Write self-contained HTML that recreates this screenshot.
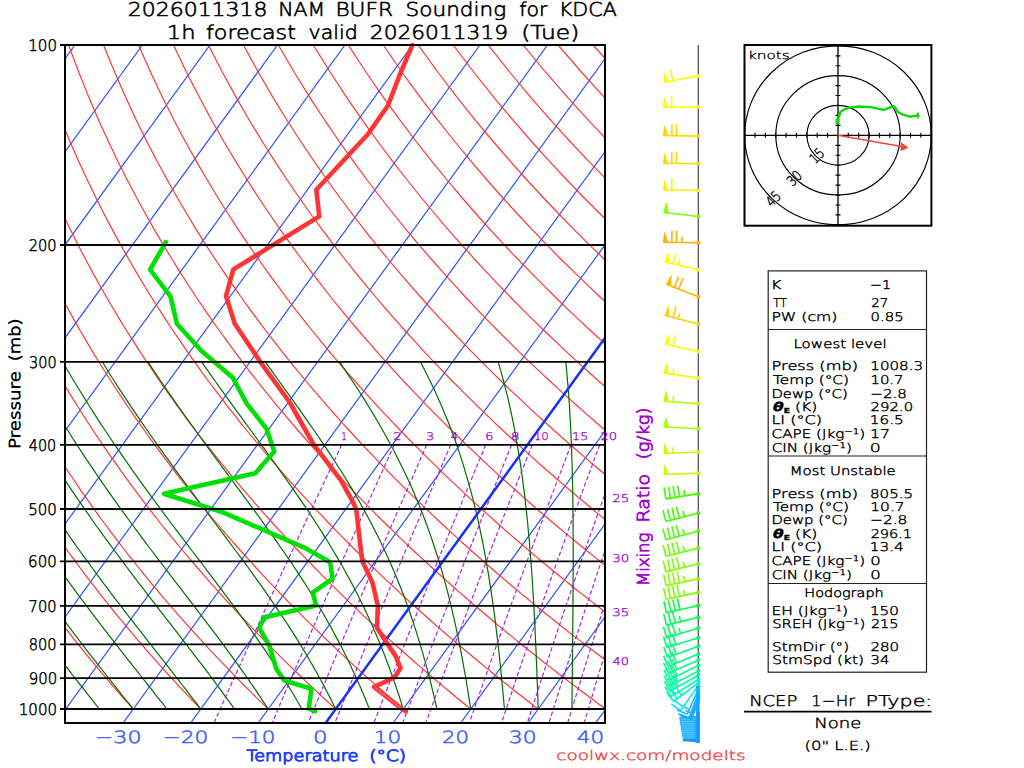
<!DOCTYPE html><html><head><meta charset="utf-8"><style>html,body{margin:0;padding:0;background:#fff;}svg{display:block;}text{font-family:"Liberation Sans",sans-serif;}</style></head><body>
<svg width="1024" height="768" viewBox="0 0 1024 768" text-rendering="geometricPrecision">
<defs><clipPath id="pc"><rect x="65" y="45" width="540" height="678"/></clipPath></defs>
<rect width="1024" height="768" fill="#fff"/>
<g clip-path="url(#pc)" fill="none">
<path d="M-551.9 723L-60 45M-484.4 723L7.5 45M-416.9 723L75 45M-349.4 723L142.5 45M-281.9 723L210 45M-214.4 723L277.5 45M-146.9 723L345 45M-79.4 723L412.5 45M-11.9 723L480 45M55.6 723L547.5 45M123.1 723L615 45M190.6 723L682.5 45M258.1 723L750 45M325.6 723L817.5 45M393.1 723L885 45M460.6 723L952.5 45M528.1 723L1020 45M595.6 723L1087.5 45" stroke="#3050ff" stroke-width="1.2"/>
<path d="M65.7 709.1L63.3 706.2L60.9 703.2L58.4 700.3L56 697.3L53.5 694.3L51.1 691.2L48.6 688.1L46.1 685L43.6 681.9L41.1 678.7L38.6 675.5L36 672.2L33.5 668.9L30.9 665.6L28.3 662.2L25.7 658.8L23.1 655.3L20.5 651.8L17.8 648.3L15.2 644.7L12.5 641.1L9.9 637.4L7.2 633.7L4.5 629.9L1.7 626.1L-1 622.2L-3.8 618.3L-6.5 614.3L-9.3 610.3L-12.1 606.2L-15 602.1L-17.8 597.8L-20.6 593.6L-23.5 589.2L-26.4 584.8L-29.3 580.4L-32.2 575.8L-35.2 571.2L-38.1 566.5L-41.1 561.7L-44.1 556.9L-47.1 552L-50.2 547L-53.2 541.8L-56.3 536.6L-59.4 531.4L-62.5 526L-65.7 520.5L-68.8 514.9L-72 509.2L-75.2 503.3L-78.4 497.4L-81.7 491.3L-84.9 485.1L-88.2 478.8L-91.6 472.3L-94.9 465.7L-98.3 458.9L-101.6 451.9L-105 444.8L-108.5 437.5L-111.9 430L-115.4 422.3L-118.9 414.4L-122.4 406.3L-126 397.9L-129.6 389.3L-133.2 380.5L-136.8 371.3L-140.4 361.8L-144.1 352.1L-147.8 341.9L-151.5 331.5L-155.2 320.6L-158.9 309.3L-162.6 297.5L-166.4 285.2L-170.1 272.4L-173.9 259L-177.6 244.9L-181.4 230.1L-185.1 214.5L-188.7 198L-192.3 180.5L-195.8 161.9L-199.3 142L-202.6 120.7L-205.7 97.6L-208.6 72.5L-211.1 45M133.2 709.1L130.6 706.2L128 703.2L125.4 700.3L122.7 697.3L120.1 694.3L117.4 691.2L114.7 688.1L112 685L109.3 681.9L106.6 678.7L103.8 675.5L101.1 672.2L98.3 668.9L95.5 665.6L92.7 662.2L89.9 658.8L87.1 655.3L84.3 651.8L81.4 648.3L78.5 644.7L75.6 641.1L72.7 637.4L69.8 633.7L66.9 629.9L63.9 626.1L60.9 622.2L57.9 618.3L54.9 614.3L51.9 610.3L48.8 606.2L45.8 602.1L42.7 597.8L39.6 593.6L36.4 589.2L33.3 584.8L30.1 580.4L26.9 575.8L23.7 571.2L20.5 566.5L17.2 561.7L13.9 556.9L10.6 552L7.3 547L4 541.8L0.6 536.6L-2.8 531.4L-6.2 526L-9.7 520.5L-13.1 514.9L-16.6 509.2L-20.1 503.3L-23.7 497.4L-27.3 491.3L-30.9 485.1L-34.5 478.8L-38.2 472.3L-41.9 465.7L-45.6 458.9L-49.3 451.9L-53.1 444.8L-56.9 437.5L-60.7 430L-64.6 422.3L-68.5 414.4L-72.4 406.3L-76.4 397.9L-80.4 389.3L-84.4 380.5L-88.5 371.3L-92.6 361.8L-96.7 352.1L-100.8 341.9L-105 331.5L-109.2 320.6L-113.5 309.3L-117.7 297.5L-122 285.2L-126.3 272.4L-130.7 259L-135 244.9L-139.4 230.1L-143.7 214.5L-148 198L-152.3 180.5L-156.6 161.9L-160.8 142L-164.9 120.7L-168.9 97.6L-172.6 72.5L-176.2 45M200.7 709.1L197.9 706.2L195.1 703.2L192.3 700.3L189.4 697.3L186.6 694.3L183.7 691.2L180.8 688.1L177.9 685L175 681.9L172.1 678.7L169.1 675.5L166.2 672.2L163.2 668.9L160.2 665.6L157.2 662.2L154.2 658.8L151.1 655.3L148 651.8L145 648.3L141.9 644.7L138.7 641.1L135.6 637.4L132.4 633.7L129.3 629.9L126.1 626.1L122.9 622.2L119.6 618.3L116.4 614.3L113.1 610.3L109.8 606.2L106.5 602.1L103.1 597.8L99.8 593.6L96.4 589.2L93 584.8L89.5 580.4L86.1 575.8L82.6 571.2L79.1 566.5L75.6 561.7L72 556.9L68.4 552L64.8 547L61.2 541.8L57.5 536.6L53.8 531.4L50.1 526L46.3 520.5L42.6 514.9L38.7 509.2L34.9 503.3L31 497.4L27.1 491.3L23.2 485.1L19.2 478.8L15.2 472.3L11.2 465.7L7.1 458.9L3 451.9L-1.1 444.8L-5.3 437.5L-9.5 430L-13.8 422.3L-18.1 414.4L-22.4 406.3L-26.8 397.9L-31.2 389.3L-35.7 380.5L-40.2 371.3L-44.7 361.8L-49.3 352.1L-53.9 341.9L-58.6 331.5L-63.3 320.6L-68.1 309.3L-72.9 297.5L-77.7 285.2L-82.6 272.4L-87.5 259L-92.4 244.9L-97.4 230.1L-102.3 214.5L-107.3 198L-112.3 180.5L-117.3 161.9L-122.3 142L-127.2 120.7L-132 97.6L-136.7 72.5L-141.2 45M268.2 709.1L265.2 706.2L262.2 703.2L259.2 700.3L256.2 697.3L253.1 694.3L250 691.2L246.9 688.1L243.8 685L240.7 681.9L237.6 678.7L234.4 675.5L231.3 672.2L228.1 668.9L224.9 665.6L221.6 662.2L218.4 658.8L215.1 655.3L211.8 651.8L208.5 648.3L205.2 644.7L201.8 641.1L198.5 637.4L195.1 633.7L191.7 629.9L188.2 626.1L184.8 622.2L181.3 618.3L177.8 614.3L174.3 610.3L170.8 606.2L167.2 602.1L163.6 597.8L160 593.6L156.3 589.2L152.6 584.8L149 580.4L145.2 575.8L141.5 571.2L137.7 566.5L133.9 561.7L130.1 556.9L126.2 552L122.3 547L118.4 541.8L114.4 536.6L110.4 531.4L106.4 526L102.3 520.5L98.2 514.9L94.1 509.2L90 503.3L85.8 497.4L81.5 491.3L77.3 485.1L73 478.8L68.6 472.3L64.2 465.7L59.8 458.9L55.3 451.9L50.8 444.8L46.3 437.5L41.7 430L37 422.3L32.3 414.4L27.6 406.3L22.8 397.9L18 389.3L13.1 380.5L8.1 371.3L3.1 361.8L-1.9 352.1L-7 341.9L-12.2 331.5L-17.4 320.6L-22.6 309.3L-28 297.5L-33.3 285.2L-38.8 272.4L-44.2 259L-49.8 244.9L-55.4 230.1L-61 214.5L-66.7 198L-72.4 180.5L-78.1 161.9L-83.8 142L-89.5 120.7L-95.2 97.6L-100.8 72.5L-106.2 45M335.7 709.1L332.5 706.2L329.3 703.2L326.1 700.3L322.9 697.3L319.6 694.3L316.3 691.2L313.1 688.1L309.8 685L306.4 681.9L303.1 678.7L299.7 675.5L296.3 672.2L292.9 668.9L289.5 665.6L286.1 662.2L282.6 658.8L279.1 655.3L275.6 651.8L272.1 648.3L268.5 644.7L264.9 641.1L261.4 637.4L257.7 633.7L254.1 629.9L250.4 626.1L246.7 622.2L243 618.3L239.3 614.3L235.5 610.3L231.7 606.2L227.9 602.1L224 597.8L220.2 593.6L216.3 589.2L212.3 584.8L208.4 580.4L204.4 575.8L200.4 571.2L196.3 566.5L192.2 561.7L188.1 556.9L184 552L179.8 547L175.6 541.8L171.3 536.6L167 531.4L162.7 526L158.3 520.5L153.9 514.9L149.5 509.2L145 503.3L140.5 497.4L135.9 491.3L131.3 485.1L126.7 478.8L122 472.3L117.3 465.7L112.5 458.9L107.6 451.9L102.8 444.8L97.8 437.5L92.9 430L87.8 422.3L82.7 414.4L77.6 406.3L72.4 397.9L67.1 389.3L61.8 380.5L56.4 371.3L51 361.8L45.5 352.1L39.9 341.9L34.3 331.5L28.6 320.6L22.8 309.3L16.9 297.5L11 285.2L5 272.4L-1 259L-7.2 244.9L-13.4 230.1L-19.6 214.5L-26 198L-32.4 180.5L-38.8 161.9L-45.3 142L-51.8 120.7L-58.4 97.6L-64.8 72.5L-71.3 45M403.2 709.1L399.8 706.2L396.4 703.2L393 700.3L389.6 697.3L386.1 694.3L382.7 691.2L379.2 688.1L375.7 685L372.1 681.9L368.6 678.7L365 675.5L361.4 672.2L357.8 668.9L354.2 665.6L350.5 662.2L346.8 658.8L343.1 655.3L339.4 651.8L335.6 648.3L331.9 644.7L328.1 641.1L324.2 637.4L320.4 633.7L316.5 629.9L312.6 626.1L308.7 622.2L304.7 618.3L300.7 614.3L296.7 610.3L292.7 606.2L288.6 602.1L284.5 597.8L280.4 593.6L276.2 589.2L272 584.8L267.8 580.4L263.5 575.8L259.2 571.2L254.9 566.5L250.6 561.7L246.2 556.9L241.7 552L237.3 547L232.8 541.8L228.2 536.6L223.6 531.4L219 526L214.3 520.5L209.6 514.9L204.9 509.2L200.1 503.3L195.2 497.4L190.3 491.3L185.4 485.1L180.4 478.8L175.4 472.3L170.3 465.7L165.2 458.9L160 451.9L154.7 444.8L149.4 437.5L144.1 430L138.6 422.3L133.1 414.4L127.6 406.3L122 397.9L116.3 389.3L110.6 380.5L104.7 371.3L98.8 361.8L92.9 352.1L86.8 341.9L80.7 331.5L74.5 320.6L68.2 309.3L61.8 297.5L55.4 285.2L48.8 272.4L42.2 259L35.5 244.9L28.6 230.1L21.7 214.5L14.7 198L7.6 180.5L0.4 161.9L-6.8 142L-14.1 120.7L-21.5 97.6L-28.9 72.5L-36.3 45M470.7 709.1L467.1 706.2L463.5 703.2L459.9 700.3L456.3 697.3L452.7 694.3L449 691.2L445.3 688.1L441.6 685L437.8 681.9L434.1 678.7L430.3 675.5L426.5 672.2L422.7 668.9L418.8 665.6L414.9 662.2L411 658.8L407.1 655.3L403.2 651.8L399.2 648.3L395.2 644.7L391.2 641.1L387.1 637.4L383 633.7L378.9 629.9L374.8 626.1L370.6 622.2L366.4 618.3L362.2 614.3L357.9 610.3L353.6 606.2L349.3 602.1L345 597.8L340.6 593.6L336.2 589.2L331.7 584.8L327.2 580.4L322.7 575.8L318.1 571.2L313.5 566.5L308.9 561.7L304.2 556.9L299.5 552L294.7 547L289.9 541.8L285.1 536.6L280.2 531.4L275.3 526L270.3 520.5L265.3 514.9L260.2 509.2L255.1 503.3L250 497.4L244.7 491.3L239.5 485.1L234.2 478.8L228.8 472.3L223.3 465.7L217.8 458.9L212.3 451.9L206.7 444.8L201 437.5L195.3 430L189.4 422.3L183.6 414.4L177.6 406.3L171.6 397.9L165.5 389.3L159.3 380.5L153 371.3L146.7 361.8L140.3 352.1L133.8 341.9L127.1 331.5L120.4 320.6L113.6 309.3L106.7 297.5L99.7 285.2L92.6 272.4L85.4 259L78.1 244.9L70.6 230.1L63.1 214.5L55.4 198L47.6 180.5L39.7 161.9L31.7 142L23.5 120.7L15.3 97.6L7 72.5L-1.3 45M538.2 709.1L534.4 706.2L530.7 703.2L526.9 700.3L523 697.3L519.2 694.3L515.3 691.2L511.4 688.1L507.5 685L503.5 681.9L499.6 678.7L495.6 675.5L491.6 672.2L487.5 668.9L483.5 665.6L479.4 662.2L475.3 658.8L471.1 655.3L466.9 651.8L462.7 648.3L458.5 644.7L454.3 641.1L450 637.4L445.7 633.7L441.3 629.9L436.9 626.1L432.5 622.2L428.1 618.3L423.6 614.3L419.1 610.3L414.6 606.2L410 602.1L405.4 597.8L400.8 593.6L396.1 589.2L391.4 584.8L386.6 580.4L381.8 575.8L377 571.2L372.1 566.5L367.2 561.7L362.3 556.9L357.3 552L352.2 547L347.1 541.8L342 536.6L336.8 531.4L331.6 526L326.3 520.5L321 514.9L315.6 509.2L310.2 503.3L304.7 497.4L299.1 491.3L293.5 485.1L287.9 478.8L282.2 472.3L276.4 465.7L270.5 458.9L264.6 451.9L258.6 444.8L252.6 437.5L246.4 430L240.2 422.3L234 414.4L227.6 406.3L221.2 397.9L214.7 389.3L208 380.5L201.3 371.3L194.6 361.8L187.7 352.1L180.7 341.9L173.6 331.5L166.4 320.6L159.1 309.3L151.6 297.5L144.1 285.2L136.4 272.4L128.6 259L120.7 244.9L112.6 230.1L104.4 214.5L96.1 198L87.6 180.5L79 161.9L70.2 142L61.2 120.7L52.1 97.6L42.9 72.5L33.6 45M605.7 709.1L601.8 706.2L597.8 703.2L593.8 700.3L589.7 697.3L585.7 694.3L581.6 691.2L577.5 688.1L573.4 685L569.2 681.9L565.1 678.7L560.9 675.5L556.7 672.2L552.4 668.9L548.1 665.6L543.8 662.2L539.5 658.8L535.1 655.3L530.7 651.8L526.3 648.3L521.8 644.7L517.4 641.1L512.9 637.4L508.3 633.7L503.7 629.9L499.1 626.1L494.5 622.2L489.8 618.3L485.1 614.3L480.3 610.3L475.6 606.2L470.7 602.1L465.9 597.8L461 593.6L456 589.2L451.1 584.8L446 580.4L441 575.8L435.9 571.2L430.7 566.5L425.6 561.7L420.3 556.9L415 552L409.7 547L404.3 541.8L398.9 536.6L393.4 531.4L387.9 526L382.3 520.5L376.7 514.9L371 509.2L365.2 503.3L359.4 497.4L353.6 491.3L347.6 485.1L341.6 478.8L335.5 472.3L329.4 465.7L323.2 458.9L316.9 451.9L310.6 444.8L304.2 437.5L297.6 430L291.1 422.3L284.4 414.4L277.6 406.3L270.8 397.9L263.8 389.3L256.8 380.5L249.6 371.3L242.4 361.8L235.1 352.1L227.6 341.9L220 331.5L212.3 320.6L204.5 309.3L196.5 297.5L188.5 285.2L180.2 272.4L171.9 259L163.3 244.9L154.6 230.1L145.8 214.5L136.8 198L127.6 180.5L118.2 161.9L108.7 142L98.9 120.7L89 97.6L78.9 72.5L68.6 45M673.2 709.1L669.1 706.2L664.9 703.2L660.7 700.3L656.5 697.3L652.2 694.3L647.9 691.2L643.6 688.1L639.3 685L635 681.9L630.6 678.7L626.2 675.5L621.7 672.2L617.3 668.9L612.8 665.6L608.2 662.2L603.7 658.8L599.1 655.3L594.5 651.8L589.9 648.3L585.2 644.7L580.5 641.1L575.7 637.4L570.9 633.7L566.1 629.9L561.3 626.1L556.4 622.2L551.5 618.3L546.5 614.3L541.5 610.3L536.5 606.2L531.4 602.1L526.3 597.8L521.2 593.6L516 589.2L510.7 584.8L505.5 580.4L500.1 575.8L494.8 571.2L489.4 566.5L483.9 561.7L478.4 556.9L472.8 552L467.2 547L461.5 541.8L455.8 536.6L450 531.4L444.2 526L438.3 520.5L432.4 514.9L426.4 509.2L420.3 503.3L414.2 497.4L408 491.3L401.7 485.1L395.3 478.8L388.9 472.3L382.5 465.7L375.9 458.9L369.3 451.9L362.5 444.8L355.7 437.5L348.8 430L341.9 422.3L334.8 414.4L327.6 406.3L320.4 397.9L313 389.3L305.5 380.5L298 371.3L290.3 361.8L282.4 352.1L274.5 341.9L266.4 331.5L258.3 320.6L249.9 309.3L241.4 297.5L232.8 285.2L224 272.4L215.1 259L205.9 244.9L196.6 230.1L187.2 214.5L177.5 198L167.6 180.5L157.5 161.9L147.1 142L136.6 120.7L125.8 97.6L114.8 72.5L103.5 45M740.7 709.1L736.4 706.2L732 703.2L727.6 700.3L723.2 697.3L718.7 694.3L714.3 691.2L709.7 688.1L705.2 685L700.7 681.9L696.1 678.7L691.5 675.5L686.8 672.2L682.1 668.9L677.4 665.6L672.7 662.2L667.9 658.8L663.1 655.3L658.3 651.8L653.4 648.3L648.5 644.7L643.6 641.1L638.6 637.4L633.6 633.7L628.5 629.9L623.5 626.1L618.3 622.2L613.2 618.3L608 614.3L602.8 610.3L597.5 606.2L592.2 602.1L586.8 597.8L581.4 593.6L575.9 589.2L570.4 584.8L564.9 580.4L559.3 575.8L553.7 571.2L548 566.5L542.2 561.7L536.4 556.9L530.6 552L524.7 547L518.7 541.8L512.7 536.6L506.6 531.4L500.5 526L494.3 520.5L488.1 514.9L481.7 509.2L475.3 503.3L468.9 497.4L462.4 491.3L455.8 485.1L449.1 478.8L442.3 472.3L435.5 465.7L428.6 458.9L421.6 451.9L414.5 444.8L407.3 437.5L400 430L392.7 422.3L385.2 414.4L377.6 406.3L370 397.9L362.2 389.3L354.3 380.5L346.3 371.3L338.1 361.8L329.8 352.1L321.4 341.9L312.9 331.5L304.2 320.6L295.3 309.3L286.3 297.5L277.2 285.2L267.8 272.4L258.3 259L248.6 244.9L238.6 230.1L228.5 214.5L218.1 198L207.6 180.5L196.7 161.9L185.6 142L174.3 120.7L162.6 97.6L150.7 72.5L138.5 45M808.2 709.1L803.7 706.2L799.1 703.2L794.5 700.3L789.9 697.3L785.2 694.3L780.6 691.2L775.9 688.1L771.1 685L766.4 681.9L761.6 678.7L756.7 675.5L751.9 672.2L747 668.9L742.1 665.6L737.1 662.2L732.1 658.8L727.1 655.3L722.1 651.8L717 648.3L711.8 644.7L706.7 641.1L701.5 637.4L696.2 633.7L691 629.9L685.6 626.1L680.3 622.2L674.9 618.3L669.4 614.3L664 610.3L658.4 606.2L652.9 602.1L647.2 597.8L641.6 593.6L635.9 589.2L630.1 584.8L624.3 580.4L618.4 575.8L612.5 571.2L606.6 566.5L600.6 561.7L594.5 556.9L588.4 552L582.2 547L575.9 541.8L569.6 536.6L563.2 531.4L556.8 526L550.3 520.5L543.7 514.9L537.1 509.2L530.4 503.3L523.6 497.4L516.8 491.3L509.8 485.1L502.8 478.8L495.7 472.3L488.5 465.7L481.3 458.9L473.9 451.9L466.4 444.8L458.9 437.5L451.2 430L443.5 422.3L435.6 414.4L427.6 406.3L419.6 397.9L411.4 389.3L403 380.5L394.6 371.3L386 361.8L377.2 352.1L368.4 341.9L359.3 331.5L350.1 320.6L340.8 309.3L331.2 297.5L321.5 285.2L311.6 272.4L301.5 259L291.2 244.9L280.6 230.1L269.9 214.5L258.8 198L247.5 180.5L236 161.9L224.1 142L212 120.7L199.5 97.6L186.6 72.5L173.5 45M875.7 709.1L871 706.2L866.2 703.2L861.4 700.3L856.6 697.3L851.8 694.3L846.9 691.2L842 688.1L837 685L832.1 681.9L827.1 678.7L822 675.5L817 672.2L811.9 668.9L806.7 665.6L801.6 662.2L796.4 658.8L791.1 655.3L785.8 651.8L780.5 648.3L775.2 644.7L769.8 641.1L764.3 637.4L758.9 633.7L753.4 629.9L747.8 626.1L742.2 622.2L736.6 618.3L730.9 614.3L725.2 610.3L719.4 606.2L713.6 602.1L707.7 597.8L701.8 593.6L695.8 589.2L689.8 584.8L683.7 580.4L677.6 575.8L671.4 571.2L665.2 566.5L658.9 561.7L652.5 556.9L646.1 552L639.7 547L633.1 541.8L626.5 536.6L619.9 531.4L613.1 526L606.3 520.5L599.4 514.9L592.5 509.2L585.5 503.3L578.3 497.4L571.2 491.3L563.9 485.1L556.5 478.8L549.1 472.3L541.6 465.7L533.9 458.9L526.2 451.9L518.4 444.8L510.5 437.5L502.4 430L494.3 422.3L486 414.4L477.7 406.3L469.2 397.9L460.5 389.3L451.8 380.5L442.9 371.3L433.8 361.8L424.6 352.1L415.3 341.9L405.8 331.5L396.1 320.6L386.2 309.3L376.1 297.5L365.9 285.2L355.4 272.4L344.7 259L333.8 244.9L322.6 230.1L311.2 214.5L299.5 198L287.5 180.5L275.2 161.9L262.6 142L249.6 120.7L236.3 97.6L222.6 72.5L208.4 45M943.2 709.1L938.3 706.2L933.3 703.2L928.3 700.3L923.3 697.3L918.3 694.3L913.2 691.2L908.1 688.1L903 685L897.8 681.9L892.6 678.7L887.3 675.5L882 672.2L876.7 668.9L871.4 665.6L866 662.2L860.6 658.8L855.1 655.3L849.6 651.8L844.1 648.3L838.5 644.7L832.9 641.1L827.2 637.4L821.5 633.7L815.8 629.9L810 626.1L804.2 622.2L798.3 618.3L792.3 614.3L786.4 610.3L780.4 606.2L774.3 602.1L768.2 597.8L762 593.6L755.8 589.2L749.5 584.8L743.1 580.4L736.8 575.8L730.3 571.2L723.8 566.5L717.2 561.7L710.6 556.9L703.9 552L697.1 547L690.3 541.8L683.4 536.6L676.5 531.4L669.4 526L662.3 520.5L655.1 514.9L647.9 509.2L640.5 503.3L633.1 497.4L625.6 491.3L618 485.1L610.3 478.8L602.5 472.3L594.6 465.7L586.6 458.9L578.5 451.9L570.3 444.8L562 437.5L553.6 430L545.1 422.3L536.4 414.4L527.7 406.3L518.8 397.9L509.7 389.3L500.5 380.5L491.2 371.3L481.7 361.8L472 352.1L462.2 341.9L452.2 331.5L442 320.6L431.6 309.3L421 297.5L410.2 285.2L399.2 272.4L387.9 259L376.4 244.9L364.6 230.1L352.6 214.5L340.2 198L327.5 180.5L314.5 161.9L301.1 142L287.3 120.7L273.1 97.6L258.5 72.5L243.4 45M1010.7 709.1L1005.6 706.2L1000.4 703.2L995.3 700.3L990 697.3L984.8 694.3L979.5 691.2L974.2 688.1L968.9 685L963.5 681.9L958.1 678.7L952.6 675.5L947.1 672.2L941.6 668.9L936 665.6L930.4 662.2L924.8 658.8L919.1 655.3L913.4 651.8L907.6 648.3L901.8 644.7L896 641.1L890.1 637.4L884.2 633.7L878.2 629.9L872.2 626.1L866.1 622.2L860 618.3L853.8 614.3L847.6 610.3L841.3 606.2L835 602.1L828.6 597.8L822.2 593.6L815.7 589.2L809.2 584.8L802.6 580.4L795.9 575.8L789.2 571.2L782.4 566.5L775.6 561.7L768.7 556.9L761.7 552L754.6 547L747.5 541.8L740.3 536.6L733.1 531.4L725.7 526L718.3 520.5L710.8 514.9L703.2 509.2L695.6 503.3L687.8 497.4L680 491.3L672 485.1L664 478.8L655.9 472.3L647.6 465.7L639.3 458.9L630.9 451.9L622.3 444.8L613.6 437.5L604.8 430L595.9 422.3L586.9 414.4L577.7 406.3L568.3 397.9L558.9 389.3L549.3 380.5L539.5 371.3L529.5 361.8L519.4 352.1L509.1 341.9L498.6 331.5L487.9 320.6L477 309.3L465.9 297.5L454.6 285.2L443 272.4L431.2 259L419 244.9L406.6 230.1L393.9 214.5L380.9 198L367.5 180.5L353.8 161.9L339.6 142L325 120.7L310 97.6L294.4 72.5L278.4 45M1078.2 709.1L1072.9 706.2L1067.6 703.2L1062.2 700.3L1056.8 697.3L1051.3 694.3L1045.8 691.2L1040.3 688.1L1034.8 685L1029.2 681.9L1023.6 678.7L1017.9 675.5L1012.2 672.2L1006.5 668.9L1000.7 665.6L994.9 662.2L989 658.8L983.1 655.3L977.2 651.8L971.2 648.3L965.2 644.7L959.1 641.1L953 637.4L946.8 633.7L940.6 629.9L934.3 626.1L928 622.2L921.7 618.3L915.3 614.3L908.8 610.3L902.3 606.2L895.7 602.1L889.1 597.8L882.4 593.6L875.7 589.2L868.8 584.8L862 580.4L855.1 575.8L848.1 571.2L841 566.5L833.9 561.7L826.7 556.9L819.4 552L812.1 547L804.7 541.8L797.2 536.6L789.7 531.4L782 526L774.3 520.5L766.5 514.9L758.6 509.2L750.6 503.3L742.5 497.4L734.4 491.3L726.1 485.1L717.7 478.8L709.3 472.3L700.7 465.7L692 458.9L683.2 451.9L674.3 444.8L665.2 437.5L656 430L646.7 422.3L637.3 414.4L627.7 406.3L617.9 397.9L608.1 389.3L598 380.5L587.8 371.3L577.4 361.8L566.8 352.1L556 341.9L545.1 331.5L533.9 320.6L522.5 309.3L510.8 297.5L498.9 285.2L486.8 272.4L474.4 259L461.7 244.9L448.6 230.1L435.3 214.5L421.6 198L407.5 180.5L393 161.9L378.1 142L362.7 120.7L346.8 97.6L330.4 72.5L313.3 45M1145.7 709.1L1140.2 706.2L1134.7 703.2L1129.1 700.3L1123.5 697.3L1117.8 694.3L1112.2 691.2L1106.4 688.1L1100.7 685L1094.9 681.9L1089.1 678.7L1083.2 675.5L1077.3 672.2L1071.3 668.9L1065.3 665.6L1059.3 662.2L1053.2 658.8L1047.1 655.3L1041 651.8L1034.7 648.3L1028.5 644.7L1022.2 641.1L1015.8 637.4L1009.5 633.7L1003 629.9L996.5 626.1L990 622.2L983.4 618.3L976.7 614.3L970 610.3L963.2 606.2L956.4 602.1L949.5 597.8L942.6 593.6L935.6 589.2L928.5 584.8L921.4 580.4L914.2 575.8L907 571.2L899.6 566.5L892.2 561.7L884.8 556.9L877.2 552L869.6 547L861.9 541.8L854.1 536.6L846.3 531.4L838.3 526L830.3 520.5L822.2 514.9L814 509.2L805.7 503.3L797.3 497.4L788.8 491.3L780.2 485.1L771.5 478.8L762.6 472.3L753.7 465.7L744.7 458.9L735.5 451.9L726.2 444.8L716.8 437.5L707.2 430L697.5 422.3L687.7 414.4L677.7 406.3L667.5 397.9L657.2 389.3L646.7 380.5L636.1 371.3L625.2 361.8L614.2 352.1L602.9 341.9L591.5 331.5L579.8 320.6L567.9 309.3L555.7 297.5L543.3 285.2L530.6 272.4L517.6 259L504.3 244.9L490.6 230.1L476.6 214.5L462.3 198L447.5 180.5L432.3 161.9L416.6 142L400.4 120.7L383.6 97.6L366.3 72.5L348.3 45M1213.2 709.1L1207.5 706.2L1201.8 703.2L1196 700.3L1190.2 697.3L1184.4 694.3L1178.5 691.2L1172.6 688.1L1166.6 685L1160.6 681.9L1154.6 678.7L1148.5 675.5L1142.4 672.2L1136.2 668.9L1130 665.6L1123.7 662.2L1117.5 658.8L1111.1 655.3L1104.7 651.8L1098.3 648.3L1091.8 644.7L1085.3 641.1L1078.7 637.4L1072.1 633.7L1065.4 629.9L1058.7 626.1L1051.9 622.2L1045.1 618.3L1038.2 614.3L1031.2 610.3L1024.2 606.2L1017.1 602.1L1010 597.8L1002.8 593.6L995.5 589.2L988.2 584.8L980.8 580.4L973.4 575.8L965.8 571.2L958.2 566.5L950.6 561.7L942.8 556.9L935 552L927.1 547L919.1 541.8L911 536.6L902.9 531.4L894.6 526L886.3 520.5L877.9 514.9L869.3 509.2L860.7 503.3L852 497.4L843.2 491.3L834.2 485.1L825.2 478.8L816 472.3L806.8 465.7L797.4 458.9L787.8 451.9L778.2 444.8L768.4 437.5L758.4 430L748.3 422.3L738.1 414.4L727.7 406.3L717.1 397.9L706.4 389.3L695.5 380.5L684.4 371.3L673.1 361.8L661.6 352.1L649.9 341.9L637.9 331.5L625.7 320.6L613.3 309.3L600.6 297.5L587.7 285.2L574.4 272.4L560.8 259L546.9 244.9L532.6 230.1L518 214.5L502.9 198L487.5 180.5L471.5 161.9L455.1 142L438.1 120.7L420.5 97.6L402.2 72.5L383.2 45M1280.7 709.1L1274.8 706.2L1268.9 703.2L1262.9 700.3L1256.9 697.3L1250.9 694.3L1244.8 691.2L1238.7 688.1L1232.5 685L1226.3 681.9L1220.1 678.7L1213.8 675.5L1207.4 672.2L1201.1 668.9L1194.7 665.6L1188.2 662.2L1181.7 658.8L1175.1 655.3L1168.5 651.8L1161.9 648.3L1155.2 644.7L1148.4 641.1L1141.6 637.4L1134.7 633.7L1127.8 629.9L1120.9 626.1L1113.8 622.2L1106.8 618.3L1099.6 614.3L1092.4 610.3L1085.2 606.2L1077.8 602.1L1070.5 597.8L1063 593.6L1055.5 589.2L1047.9 584.8L1040.2 580.4L1032.5 575.8L1024.7 571.2L1016.8 566.5L1008.9 561.7L1000.9 556.9L992.8 552L984.6 547L976.3 541.8L967.9 536.6L959.5 531.4L950.9 526L942.3 520.5L933.6 514.9L924.7 509.2L915.8 503.3L906.7 497.4L897.6 491.3L888.3 485.1L878.9 478.8L869.4 472.3L859.8 465.7L850 458.9L840.1 451.9L830.1 444.8L819.9 437.5L809.6 430L799.1 422.3L788.5 414.4L777.7 406.3L766.7 397.9L755.6 389.3L744.2 380.5L732.7 371.3L720.9 361.8L709 352.1L696.8 341.9L684.4 331.5L671.7 320.6L658.7 309.3L645.5 297.5L632 285.2L618.2 272.4L604 259L589.5 244.9L574.6 230.1L559.4 214.5L543.6 198L527.5 180.5L510.8 161.9L493.6 142L475.7 120.7L457.3 97.6L438.1 72.5L418.2 45M1348.2 709.1L1342.1 706.2L1336 703.2L1329.8 700.3L1323.6 697.3L1317.4 694.3L1311.1 691.2L1304.8 688.1L1298.4 685L1292 681.9L1285.6 678.7L1279.1 675.5L1272.5 672.2L1265.9 668.9L1259.3 665.6L1252.6 662.2L1245.9 658.8L1239.1 655.3L1232.3 651.8L1225.4 648.3L1218.5 644.7L1211.5 641.1L1204.5 637.4L1197.4 633.7L1190.2 629.9L1183 626.1L1175.8 622.2L1168.5 618.3L1161.1 614.3L1153.6 610.3L1146.1 606.2L1138.5 602.1L1130.9 597.8L1123.2 593.6L1115.4 589.2L1107.6 584.8L1099.7 580.4L1091.7 575.8L1083.6 571.2L1075.5 566.5L1067.2 561.7L1058.9 556.9L1050.5 552L1042.1 547L1033.5 541.8L1024.8 536.6L1016.1 531.4L1007.2 526L998.3 520.5L989.2 514.9L980.1 509.2L970.8 503.3L961.5 497.4L952 491.3L942.4 485.1L932.7 478.8L922.8 472.3L912.8 465.7L902.7 458.9L892.5 451.9L882.1 444.8L871.5 437.5L860.8 430L850 422.3L838.9 414.4L827.7 406.3L816.3 397.9L804.8 389.3L793 380.5L781 371.3L768.8 361.8L756.4 352.1L743.7 341.9L730.8 331.5L717.6 320.6L704.2 309.3L690.4 297.5L676.4 285.2L662 272.4L647.2 259L632.1 244.9L616.6 230.1L600.7 214.5L584.3 198L567.4 180.5L550 161.9L532 142L513.4 120.7L494.1 97.6L474.1 72.5L453.2 45M1415.7 709.1L1409.4 706.2L1403.1 703.2L1396.7 700.3L1390.3 697.3L1383.9 694.3L1377.4 691.2L1370.9 688.1L1364.3 685L1357.7 681.9L1351.1 678.7L1344.4 675.5L1337.6 672.2L1330.8 668.9L1324 665.6L1317.1 662.2L1310.1 658.8L1303.1 655.3L1296.1 651.8L1289 648.3L1281.8 644.7L1274.6 641.1L1267.3 637.4L1260 633.7L1252.6 629.9L1245.2 626.1L1237.7 622.2L1230.1 618.3L1222.5 614.3L1214.8 610.3L1207.1 606.2L1199.3 602.1L1191.4 597.8L1183.4 593.6L1175.4 589.2L1167.3 584.8L1159.1 580.4L1150.8 575.8L1142.5 571.2L1134.1 566.5L1125.6 561.7L1117 556.9L1108.3 552L1099.5 547L1090.7 541.8L1081.7 536.6L1072.7 531.4L1063.5 526L1054.3 520.5L1044.9 514.9L1035.5 509.2L1025.9 503.3L1016.2 497.4L1006.4 491.3L996.5 485.1L986.4 478.8L976.2 472.3L965.9 465.7L955.4 458.9L944.8 451.9L934 444.8L923.1 437.5L912 430L900.8 422.3L889.3 414.4L877.7 406.3L865.9 397.9L853.9 389.3L841.7 380.5L829.3 371.3L816.7 361.8L803.8 352.1L790.6 341.9L777.2 331.5L763.6 320.6L749.6 309.3L735.3 297.5L720.7 285.2L705.8 272.4L690.5 259L674.8 244.9L658.6 230.1L642.1 214.5L625 198L607.4 180.5L589.3 161.9L570.5 142L551.1 120.7L531 97.6L510 72.5L488.1 45M1483.2 709.1L1476.7 706.2L1470.2 703.2L1463.7 700.3L1457.1 697.3L1450.4 694.3L1443.7 691.2L1437 688.1L1430.2 685L1423.4 681.9L1416.6 678.7L1409.6 675.5L1402.7 672.2L1395.7 668.9L1388.6 665.6L1381.5 662.2L1374.3 658.8L1367.1 655.3L1359.9 651.8L1352.5 648.3L1345.2 644.7L1337.7 641.1L1330.2 637.4L1322.7 633.7L1315.1 629.9L1307.4 626.1L1299.6 622.2L1291.8 618.3L1284 614.3L1276 610.3L1268 606.2L1260 602.1L1251.8 597.8L1243.6 593.6L1235.3 589.2L1226.9 584.8L1218.5 580.4L1210 575.8L1201.4 571.2L1192.7 566.5L1183.9 561.7L1175 556.9L1166.1 552L1157 547L1147.9 541.8L1138.6 536.6L1129.3 531.4L1119.8 526L1110.3 520.5L1100.6 514.9L1090.8 509.2L1080.9 503.3L1070.9 497.4L1060.8 491.3L1050.5 485.1L1040.1 478.8L1029.6 472.3L1018.9 465.7L1008.1 458.9L997.1 451.9L986 444.8L974.7 437.5L963.2 430L951.6 422.3L939.7 414.4L927.7 406.3L915.5 397.9L903.1 389.3L890.5 380.5L877.6 371.3L864.5 361.8L851.2 352.1L837.5 341.9L823.7 331.5L809.5 320.6L795 309.3L780.2 297.5L765.1 285.2L749.6 272.4L733.7 259L717.4 244.9L700.6 230.1L683.4 214.5L665.7 198L647.4 180.5L628.5 161.9L609 142L588.8 120.7L567.8 97.6L545.9 72.5L523.1 45M1550.7 709.1L1544 706.2L1537.3 703.2L1530.6 700.3L1523.8 697.3L1516.9 694.3L1510.1 691.2L1503.1 688.1L1496.2 685L1489.1 681.9L1482.1 678.7L1474.9 675.5L1467.8 672.2L1460.5 668.9L1453.3 665.6L1445.9 662.2L1438.6 658.8L1431.1 655.3L1423.6 651.8L1416.1 648.3L1408.5 644.7L1400.8 641.1L1393.1 637.4L1385.3 633.7L1377.5 629.9L1369.6 626.1L1361.6 622.2L1353.5 618.3L1345.4 614.3L1337.2 610.3L1329 606.2L1320.7 602.1L1312.3 597.8L1303.8 593.6L1295.3 589.2L1286.6 584.8L1277.9 580.4L1269.1 575.8L1260.3 571.2L1251.3 566.5L1242.2 561.7L1233.1 556.9L1223.8 552L1214.5 547L1205.1 541.8L1195.5 536.6L1185.9 531.4L1176.1 526L1166.3 520.5L1156.3 514.9L1146.2 509.2L1136 503.3L1125.7 497.4L1115.2 491.3L1104.6 485.1L1093.9 478.8L1083 472.3L1071.9 465.7L1060.8 458.9L1049.4 451.9L1037.9 444.8L1026.3 437.5L1014.4 430L1002.4 422.3L990.2 414.4L977.7 406.3L965.1 397.9L952.3 389.3L939.2 380.5L925.9 371.3L912.4 361.8L898.5 352.1L884.5 341.9L870.1 331.5L855.4 320.6L840.4 309.3L825.1 297.5L809.4 285.2L793.4 272.4L776.9 259L760 244.9L742.6 230.1L724.8 214.5L706.4 198L687.4 180.5L667.8 161.9L647.5 142L626.5 120.7L604.6 97.6L581.8 72.5L558.1 45M1618.2 709.1L1611.3 706.2L1604.4 703.2L1597.5 700.3L1590.5 697.3L1583.5 694.3L1576.4 691.2L1569.2 688.1L1562.1 685L1554.8 681.9L1547.6 678.7L1540.2 675.5L1532.8 672.2L1525.4 668.9L1517.9 665.6L1510.4 662.2L1502.8 658.8L1495.1 655.3L1487.4 651.8L1479.6 648.3L1471.8 644.7L1463.9 641.1L1456 637.4L1448 633.7L1439.9 629.9L1431.7 626.1L1423.5 622.2L1415.2 618.3L1406.9 614.3L1398.5 610.3L1390 606.2L1381.4 602.1L1372.7 597.8L1364 593.6L1355.2 589.2L1346.3 584.8L1337.3 580.4L1328.3 575.8L1319.1 571.2L1309.9 566.5L1300.6 561.7L1291.1 556.9L1281.6 552L1272 547L1262.3 541.8L1252.4 536.6L1242.5 531.4L1232.4 526L1222.3 520.5L1212 514.9L1201.6 509.2L1191.1 503.3L1180.4 497.4L1169.6 491.3L1158.7 485.1L1147.6 478.8L1136.4 472.3L1125 465.7L1113.4 458.9L1101.7 451.9L1089.9 444.8L1077.8 437.5L1065.6 430L1053.2 422.3L1040.6 414.4L1027.8 406.3L1014.7 397.9L1001.5 389.3L988 380.5L974.2 371.3L960.2 361.8L945.9 352.1L931.4 341.9L916.5 331.5L901.4 320.6L885.9 309.3L870 297.5L853.8 285.2L837.2 272.4L820.1 259L802.6 244.9L784.6 230.1L766.1 214.5L747.1 198L727.4 180.5L707.1 161.9L686 142L664.2 120.7L641.5 97.6L617.8 72.5L593 45M1685.7 709.1L1678.7 706.2L1671.6 703.2L1664.4 700.3L1657.2 697.3L1650 694.3L1642.7 691.2L1635.4 688.1L1628 685L1620.5 681.9L1613 678.7L1605.5 675.5L1597.9 672.2L1590.3 668.9L1582.6 665.6L1574.8 662.2L1567 658.8L1559.1 655.3L1551.2 651.8L1543.2 648.3L1535.1 644.7L1527 641.1L1518.8 637.4L1510.6 633.7L1502.3 629.9L1493.9 626.1L1485.5 622.2L1476.9 618.3L1468.3 614.3L1459.7 610.3L1450.9 606.2L1442.1 602.1L1433.2 597.8L1424.2 593.6L1415.1 589.2L1406 584.8L1396.8 580.4L1387.4 575.8L1378 571.2L1368.5 566.5L1358.9 561.7L1349.2 556.9L1339.4 552L1329.5 547L1319.5 541.8L1309.3 536.6L1299.1 531.4L1288.7 526L1278.3 520.5L1267.7 514.9L1257 509.2L1246.1 503.3L1235.1 497.4L1224 491.3L1212.7 485.1L1201.3 478.8L1189.7 472.3L1178 465.7L1166.1 458.9L1154.1 451.9L1141.8 444.8L1129.4 437.5L1116.8 430L1104 422.3L1091 414.4L1077.8 406.3L1064.3 397.9L1050.6 389.3L1036.7 380.5L1022.5 371.3L1008.1 361.8L993.3 352.1L978.3 341.9L963 331.5L947.3 320.6L931.3 309.3L914.9 297.5L898.1 285.2L881 272.4L863.3 259L845.2 244.9L826.6 230.1L807.5 214.5L787.8 198L767.4 180.5L746.3 161.9L724.5 142L701.9 120.7L678.3 97.6L653.7 72.5L628 45" stroke="#ff3030" stroke-width="1.15"/>
<path d="M32 709.1L29.7 706.2L27.5 703.2L25.2 700.3L22.9 697.3L20.6 694.3L18.3 691.2L16 688.1L13.7 685L11.3 681.9L9 678.7L6.6 675.5L4.2 672.2L1.8 668.9L-0.6 665.6L-3 662.2L-5.5 658.8L-8 655.3L-10.4 651.8L-12.9 648.3L-15.4 644.7L-18 641.1L-20.5 637.4L-23.1 633.7L-25.6 629.9L-28.2 626.1L-30.8 622.2L-33.4 618.3L-36.1 614.3L-38.7 610.3L-41.4 606.2L-44.1 602.1L-46.8 597.8L-49.5 593.6L-52.2 589.2L-55 584.8L-57.7 580.4L-60.5 575.8L-63.3 571.2L-66.1 566.5L-69 561.7L-71.8 556.9L-74.7 552L-77.6 547L-80.5 541.8L-83.4 536.6L-86.4 531.4L-89.3 526L-92.3 520.5L-95.3 514.9L-98.3 509.2L-101.4 503.3L-104.4 497.4L-107.5 491.3L-110.6 485.1L-113.8 478.8L-116.9 472.3L-120.1 465.7L-123.2 458.9L-126.4 451.9L-129.7 444.8L-132.9 437.5L-136.2 430L-139.5 422.3L-142.8 414.4L-146.1 406.3L-149.5 397.9L-152.8 389.3L-156.2 380.5L-159.6 371.3L-163 361.8M65.7 709.1L63.4 706.2L61.1 703.2L58.8 700.3L56.5 697.3L54.1 694.3L51.8 691.2L49.4 688.1L47 685L44.5 681.9L42.1 678.7L39.7 675.5L37.2 672.2L34.7 668.9L32.2 665.6L29.7 662.2L27.2 658.8L24.6 655.3L22 651.8L19.4 648.3L16.8 644.7L14.2 641.1L11.6 637.4L8.9 633.7L6.2 629.9L3.6 626.1L0.8 622.2L-1.9 618.3L-4.6 614.3L-7.4 610.3L-10.2 606.2L-13 602.1L-15.8 597.8L-18.6 593.6L-21.5 589.2L-24.4 584.8L-27.3 580.4L-30.2 575.8L-33.1 571.2L-36.1 566.5L-39 561.7L-42 556.9L-45 552L-48.1 547L-51.1 541.8L-54.2 536.6L-57.3 531.4L-60.4 526L-63.5 520.5L-66.7 514.9L-69.9 509.2L-73.1 503.3L-76.3 497.4L-79.6 491.3L-82.8 485.1L-86.1 478.8L-89.5 472.3L-92.8 465.7L-96.2 458.9L-99.6 451.9L-103 444.8L-106.4 437.5L-109.9 430L-113.4 422.3L-116.9 414.4L-120.4 406.3L-124 397.9L-127.5 389.3L-131.1 380.5L-134.8 371.3L-138.4 361.8M99.5 709.1L97.1 706.2L94.8 703.2L92.5 700.3L90.1 697.3L87.7 694.3L85.3 691.2L82.9 688.1L80.4 685L77.9 681.9L75.4 678.7L72.9 675.5L70.4 672.2L67.9 668.9L65.3 665.6L62.7 662.2L60.1 658.8L57.5 655.3L54.8 651.8L52.1 648.3L49.5 644.7L46.7 641.1L44 637.4L41.3 633.7L38.5 629.9L35.7 626.1L32.9 622.2L30.1 618.3L27.2 614.3L24.4 610.3L21.5 606.2L18.5 602.1L15.6 597.8L12.7 593.6L9.7 589.2L6.7 584.8L3.7 580.4L0.6 575.8L-2.4 571.2L-5.5 566.5L-8.6 561.7L-11.8 556.9L-14.9 552L-18.1 547L-21.3 541.8L-24.5 536.6L-27.8 531.4L-31 526L-34.3 520.5L-37.7 514.9L-41 509.2L-44.4 503.3L-47.8 497.4L-51.2 491.3L-54.6 485.1L-58.1 478.8L-61.6 472.3L-65.1 465.7L-68.7 458.9L-72.2 451.9L-75.8 444.8L-79.5 437.5L-83.1 430L-86.8 422.3L-90.5 414.4L-94.3 406.3L-98.1 397.9L-101.9 389.3L-105.7 380.5L-109.5 371.3L-113.4 361.8M133.2 709.1L130.9 706.2L128.6 703.2L126.2 700.3L123.8 697.3L121.4 694.3L119 691.2L116.5 688.1L114.1 685L111.6 681.9L109 678.7L106.5 675.5L103.9 672.2L101.3 668.9L98.7 665.6L96.1 662.2L93.4 658.8L90.7 655.3L88 651.8L85.3 648.3L82.5 644.7L79.8 641.1L77 637.4L74.1 633.7L71.3 629.9L68.4 626.1L65.5 622.2L62.6 618.3L59.6 614.3L56.7 610.3L53.7 606.2L50.7 602.1L47.6 597.8L44.6 593.6L41.5 589.2L38.4 584.8L35.2 580.4L32 575.8L28.9 571.2L25.6 566.5L22.4 561.7L19.1 556.9L15.8 552L12.5 547L9.2 541.8L5.8 536.6L2.4 531.4L-1 526L-4.5 520.5L-7.9 514.9L-11.4 509.2L-15 503.3L-18.5 497.4L-22.1 491.3L-25.7 485.1L-29.4 478.8L-33.1 472.3L-36.8 465.7L-40.5 458.9L-44.3 451.9L-48.1 444.8L-51.9 437.5L-55.8 430L-59.7 422.3L-63.6 414.4L-67.6 406.3L-71.6 397.9L-75.6 389.3L-79.6 380.5L-83.7 371.3L-87.9 361.8M167 709.1L164.7 706.2L162.4 703.2L160.1 700.3L157.7 697.3L155.3 694.3L152.9 691.2L150.5 688.1L148 685L145.5 681.9L143 678.7L140.5 675.5L137.9 672.2L135.3 668.9L132.7 665.6L130 662.2L127.3 658.8L124.6 655.3L121.9 651.8L119.1 648.3L116.3 644.7L113.5 641.1L110.6 637.4L107.7 633.7L104.8 629.9L101.9 626.1L98.9 622.2L95.9 618.3L92.9 614.3L89.8 610.3L86.8 606.2L83.6 602.1L80.5 597.8L77.3 593.6L74.1 589.2L70.9 584.8L67.7 580.4L64.4 575.8L61.1 571.2L57.7 566.5L54.4 561.7L51 556.9L47.6 552L44.1 547L40.6 541.8L37.1 536.6L33.6 531.4L30 526L26.4 520.5L22.7 514.9L19.1 509.2L15.4 503.3L11.6 497.4L7.9 491.3L4.1 485.1L0.2 478.8L-3.6 472.3L-7.5 465.7L-11.4 458.9L-15.4 451.9L-19.4 444.8L-23.4 437.5L-27.5 430L-31.6 422.3L-35.8 414.4L-39.9 406.3L-44.2 397.9L-48.4 389.3L-52.7 380.5L-57.1 371.3L-61.4 361.8M200.7 709.1L198.5 706.2L196.3 703.2L194 700.3L191.8 697.3L189.5 694.3L187.1 691.2L184.7 688.1L182.3 685L179.9 681.9L177.4 678.7L174.9 675.5L172.4 672.2L169.8 668.9L167.2 665.6L164.6 662.2L161.9 658.8L159.2 655.3L156.4 651.8L153.7 648.3L150.9 644.7L148 641.1L145.2 637.4L142.3 633.7L139.3 629.9L136.3 626.1L133.3 622.2L130.3 618.3L127.2 614.3L124.1 610.3L121 606.2L117.8 602.1L114.6 597.8L111.3 593.6L108.1 589.2L104.7 584.8L101.4 580.4L98 575.8L94.6 571.2L91.2 566.5L87.7 561.7L84.2 556.9L80.6 552L77 547L73.4 541.8L69.7 536.6L66.1 531.4L62.3 526L58.6 520.5L54.8 514.9L50.9 509.2L47.1 503.3L43.2 497.4L39.2 491.3L35.3 485.1L31.2 478.8L27.2 472.3L23.1 465.7L19 458.9L14.8 451.9L10.6 444.8L6.4 437.5L2.1 430L-2.3 422.3L-6.6 414.4L-11 406.3L-15.5 397.9L-20 389.3L-24.5 380.5L-29.1 371.3L-33.8 361.8M234.5 709.1L232.4 706.2L230.3 703.2L228.2 700.3L226 697.3L223.8 694.3L221.6 691.2L219.3 688.1L217 685L214.7 681.9L212.3 678.7L209.9 675.5L207.5 672.2L205 668.9L202.5 665.6L199.9 662.2L197.3 658.8L194.6 655.3L192 651.8L189.2 648.3L186.5 644.7L183.7 641.1L180.8 637.4L178 633.7L175 629.9L172.1 626.1L169.1 622.2L166 618.3L163 614.3L159.8 610.3L156.7 606.2L153.5 602.1L150.2 597.8L146.9 593.6L143.6 589.2L140.2 584.8L136.8 580.4L133.3 575.8L129.8 571.2L126.3 566.5L122.7 561.7L119.1 556.9L115.5 552L111.8 547L108 541.8L104.2 536.6L100.4 531.4L96.5 526L92.6 520.5L88.7 514.9L84.7 509.2L80.7 503.3L76.6 497.4L72.5 491.3L68.3 485.1L64.1 478.8L59.9 472.3L55.6 465.7L51.3 458.9L46.9 451.9L42.5 444.8L38 437.5L33.5 430L28.9 422.3L24.3 414.4L19.7 406.3L15 397.9L10.2 389.3L5.4 380.5L0.5 371.3L-4.4 361.8M268.2 709.1L266.3 706.2L264.4 703.2L262.5 700.3L260.5 697.3L258.5 694.3L256.4 691.2L254.3 688.1L252.2 685L250 681.9L247.8 678.7L245.5 675.5L243.2 672.2L240.9 668.9L238.5 665.6L236.1 662.2L233.6 658.8L231.1 655.3L228.5 651.8L225.9 648.3L223.3 644.7L220.6 641.1L217.9 637.4L215.1 633.7L212.2 629.9L209.3 626.1L206.4 622.2L203.4 618.3L200.4 614.3L197.3 610.3L194.2 606.2L191 602.1L187.8 597.8L184.5 593.6L181.2 589.2L177.8 584.8L174.3 580.4L170.9 575.8L167.3 571.2L163.8 566.5L160.1 561.7L156.4 556.9L152.7 552L148.9 547L145.1 541.8L141.2 536.6L137.3 531.4L133.3 526L129.2 520.5L125.2 514.9L121 509.2L116.8 503.3L112.6 497.4L108.3 491.3L104 485.1L99.6 478.8L95.2 472.3L90.7 465.7L86.1 458.9L81.5 451.9L76.9 444.8L72.2 437.5L67.5 430L62.6 422.3L57.8 414.4L52.9 406.3L47.9 397.9L42.9 389.3L37.8 380.5L32.7 371.3L27.5 361.8M302 709.1L300.3 706.2L298.6 703.2L296.9 700.3L295.1 697.3L293.3 694.3L291.5 691.2L289.6 688.1L287.7 685L285.7 681.9L283.7 678.7L281.7 675.5L279.6 672.2L277.5 668.9L275.3 665.6L273.1 662.2L270.8 658.8L268.5 655.3L266.2 651.8L263.8 648.3L261.3 644.7L258.8 641.1L256.2 637.4L253.6 633.7L251 629.9L248.2 626.1L245.5 622.2L242.6 618.3L239.7 614.3L236.8 610.3L233.8 606.2L230.7 602.1L227.6 597.8L224.4 593.6L221.2 589.2L217.8 584.8L214.5 580.4L211 575.8L207.5 571.2L204 566.5L200.4 561.7L196.7 556.9L192.9 552L189.1 547L185.3 541.8L181.3 536.6L177.3 531.4L173.3 526L169.1 520.5L165 514.9L160.7 509.2L156.4 503.3L152 497.4L147.6 491.3L143.1 485.1L138.5 478.8L133.9 472.3L129.2 465.7L124.5 458.9L119.7 451.9L114.8 444.8L109.9 437.5L104.9 430L99.8 422.3L94.7 414.4L89.5 406.3L84.3 397.9L79 389.3L73.6 380.5L68.1 371.3L62.6 361.8M335.7 709.1L334.3 706.2L332.8 703.2L331.4 700.3L329.9 697.3L328.3 694.3L326.7 691.2L325.1 688.1L323.5 685L321.8 681.9L320.1 678.7L318.3 675.5L316.5 672.2L314.6 668.9L312.8 665.6L310.8 662.2L308.8 658.8L306.8 655.3L304.7 651.8L302.6 648.3L300.4 644.7L298.2 641.1L295.9 637.4L293.5 633.7L291.1 629.9L288.7 626.1L286.2 622.2L283.6 618.3L280.9 614.3L278.2 610.3L275.5 606.2L272.6 602.1L269.7 597.8L266.7 593.6L263.7 589.2L260.6 584.8L257.4 580.4L254.1 575.8L250.8 571.2L247.4 566.5L243.9 561.7L240.3 556.9L236.7 552L232.9 547L229.1 541.8L225.2 536.6L221.3 531.4L217.2 526L213.1 520.5L208.9 514.9L204.6 509.2L200.2 503.3L195.8 497.4L191.3 491.3L186.7 485.1L182 478.8L177.2 472.3L172.4 465.7L167.5 458.9L162.5 451.9L157.4 444.8L152.2 437.5L147 430L141.7 422.3L136.3 414.4L130.8 406.3L125.3 397.9L119.6 389.3L113.9 380.5L108.1 371.3L102.3 361.8M369.5 709.1L368.3 706.2L367.1 703.2L365.9 700.3L364.7 697.3L363.4 694.3L362.1 691.2L360.8 688.1L359.4 685L358.1 681.9L356.6 678.7L355.2 675.5L353.7 672.2L352.1 668.9L350.6 665.6L349 662.2L347.3 658.8L345.6 655.3L343.9 651.8L342.1 648.3L340.3 644.7L338.4 641.1L336.4 637.4L334.4 633.7L332.4 629.9L330.3 626.1L328.1 622.2L325.9 618.3L323.6 614.3L321.3 610.3L318.9 606.2L316.4 602.1L313.8 597.8L311.2 593.6L308.5 589.2L305.7 584.8L302.9 580.4L299.9 575.8L296.9 571.2L293.8 566.5L290.6 561.7L287.3 556.9L283.9 552L280.4 547L276.9 541.8L273.2 536.6L269.4 531.4L265.6 526L261.6 520.5L257.5 514.9L253.4 509.2L249.1 503.3L244.7 497.4L240.2 491.3L235.6 485.1L230.9 478.8L226.1 472.3L221.2 465.7L216.2 458.9L211.1 451.9L205.9 444.8L200.5 437.5L195.1 430L189.6 422.3L183.9 414.4L178.2 406.3L172.4 397.9L166.4 389.3L160.4 380.5L154.2 371.3L148 361.8M403.2 709.1L402.3 706.2L401.4 703.2L400.5 700.3L399.5 697.3L398.5 694.3L397.5 691.2L396.5 688.1L395.4 685L394.3 681.9L393.2 678.7L392.1 675.5L390.9 672.2L389.7 668.9L388.5 665.6L387.2 662.2L385.9 658.8L384.6 655.3L383.2 651.8L381.8 648.3L380.4 644.7L378.9 641.1L377.3 637.4L375.8 633.7L374.1 629.9L372.5 626.1L370.7 622.2L368.9 618.3L367.1 614.3L365.2 610.3L363.3 606.2L361.2 602.1L359.1 597.8L357 593.6L354.8 589.2L352.5 584.8L350.1 580.4L347.6 575.8L345.1 571.2L342.5 566.5L339.8 561.7L336.9 556.9L334 552L331 547L327.9 541.8L324.7 536.6L321.4 531.4L317.9 526L314.4 520.5L310.7 514.9L306.9 509.2L302.9 503.3L298.9 497.4L294.7 491.3L290.3 485.1L285.9 478.8L281.2 472.3L276.5 465.7L271.6 458.9L266.5 451.9L261.4 444.8L256 437.5L250.6 430L245 422.3L239.2 414.4L233.3 406.3L227.2 397.9L221.1 389.3L214.7 380.5L208.3 371.3L201.7 361.8M437 709.1L436.3 706.2L435.6 703.2L434.9 700.3L434.2 697.3L433.5 694.3L432.8 691.2L432 688.1L431.3 685L430.5 681.9L429.7 678.7L428.8 675.5L428 672.2L427.1 668.9L426.2 665.6L425.3 662.2L424.3 658.8L423.4 655.3L422.4 651.8L421.3 648.3L420.3 644.7L419.2 641.1L418 637.4L416.9 633.7L415.7 629.9L414.4 626.1L413.2 622.2L411.8 618.3L410.5 614.3L409.1 610.3L407.6 606.2L406.1 602.1L404.6 597.8L402.9 593.6L401.3 589.2L399.5 584.8L397.7 580.4L395.9 575.8L393.9 571.2L391.9 566.5L389.8 561.7L387.7 556.9L385.4 552L383 547L380.6 541.8L378 536.6L375.4 531.4L372.6 526L369.7 520.5L366.7 514.9L363.6 509.2L360.3 503.3L356.9 497.4L353.4 491.3L349.7 485.1L345.8 478.8L341.8 472.3L337.6 465.7L333.2 458.9L328.6 451.9L323.9 444.8L318.9 437.5L313.8 430L308.4 422.3L302.9 414.4L297.2 406.3L291.2 397.9L285 389.3L278.7 380.5L272.1 371.3L265.3 361.8M470.7 709.1L470.3 706.2L469.8 703.2L469.4 700.3L468.9 697.3L468.4 694.3L467.9 691.2L467.4 688.1L466.9 685L466.4 681.9L465.8 678.7L465.3 675.5L464.7 672.2L464.1 668.9L463.5 665.6L462.9 662.2L462.3 658.8L461.6 655.3L461 651.8L460.3 648.3L459.6 644.7L458.8 641.1L458.1 637.4L457.3 633.7L456.5 629.9L455.7 626.1L454.8 622.2L454 618.3L453 614.3L452.1 610.3L451.1 606.2L450.1 602.1L449.1 597.8L448 593.6L446.9 589.2L445.7 584.8L444.5 580.4L443.2 575.8L441.9 571.2L440.5 566.5L439.1 561.7L437.6 556.9L436 552L434.4 547L432.7 541.8L431 536.6L429.1 531.4L427.2 526L425.1 520.5L423 514.9L420.7 509.2L418.4 503.3L415.9 497.4L413.3 491.3L410.6 485.1L407.7 478.8L404.6 472.3L401.4 465.7L398.1 458.9L394.5 451.9L390.7 444.8L386.7 437.5L382.5 430L378.1 422.3L373.4 414.4L368.5 406.3L363.3 397.9L357.8 389.3L352 380.5L345.9 371.3L339.6 361.8M504.5 709.1L504.2 706.2L503.9 703.2L503.7 700.3L503.4 697.3L503.1 694.3L502.9 691.2L502.6 688.1L502.3 685L502 681.9L501.7 678.7L501.4 675.5L501 672.2L500.7 668.9L500.4 665.6L500 662.2L499.6 658.8L499.3 655.3L498.9 651.8L498.5 648.3L498.1 644.7L497.7 641.1L497.2 637.4L496.8 633.7L496.3 629.9L495.9 626.1L495.4 622.2L494.9 618.3L494.4 614.3L493.8 610.3L493.3 606.2L492.7 602.1L492.1 597.8L491.4 593.6L490.8 589.2L490.1 584.8L489.4 580.4L488.7 575.8L487.9 571.2L487.1 566.5L486.3 561.7L485.4 556.9L484.5 552L483.6 547L482.6 541.8L481.5 536.6L480.4 531.4L479.3 526L478.1 520.5L476.8 514.9L475.4 509.2L474 503.3L472.5 497.4L470.9 491.3L469.2 485.1L467.4 478.8L465.5 472.3L463.5 465.7L461.4 458.9L459.1 451.9L456.7 444.8L454.1 437.5L451.3 430L448.3 422.3L445.1 414.4L441.7 406.3L438 397.9L434.1 389.3L429.9 380.5L425.3 371.3L420.4 361.8M538.2 709.1L538.1 706.2L538 703.2L537.9 700.3L537.8 697.3L537.7 694.3L537.6 691.2L537.5 688.1L537.4 685L537.2 681.9L537.1 678.7L537 675.5L536.9 672.2L536.8 668.9L536.6 665.6L536.5 662.2L536.3 658.8L536.2 655.3L536.1 651.8L535.9 648.3L535.7 644.7L535.6 641.1L535.4 637.4L535.2 633.7L535.1 629.9L534.9 626.1L534.7 622.2L534.5 618.3L534.3 614.3L534.1 610.3L533.8 606.2L533.6 602.1L533.4 597.8L533.1 593.6L532.8 589.2L532.6 584.8L532.3 580.4L532 575.8L531.7 571.2L531.3 566.5L531 561.7L530.6 556.9L530.2 552L529.8 547L529.4 541.8L528.9 536.6L528.4 531.4L527.9 526L527.4 520.5L526.8 514.9L526.2 509.2L525.5 503.3L524.9 497.4L524.1 491.3L523.3 485.1L522.5 478.8L521.6 472.3L520.7 465.7L519.6 458.9L518.5 451.9L517.3 444.8L516 437.5L514.7 430L513.2 422.3L511.5 414.4L509.8 406.3L507.8 397.9L505.7 389.3L503.4 380.5L500.9 371.3L498.2 361.8M572 709.1L572 706.2L572 703.2L572 700.3L572.1 697.3L572.1 694.3L572.1 691.2L572.1 688.1L572.2 685L572.2 681.9L572.2 678.7L572.3 675.5L572.3 672.2L572.3 668.9L572.4 665.6L572.4 662.2L572.4 658.8L572.5 655.3L572.5 651.8L572.5 648.3L572.6 644.7L572.6 641.1L572.7 637.4L572.7 633.7L572.7 629.9L572.8 626.1L572.8 622.2L572.8 618.3L572.9 614.3L572.9 610.3L572.9 606.2L573 602.1L573 597.8L573 593.6L573.1 589.2L573.1 584.8L573.1 580.4L573.1 575.8L573.1 571.2L573.2 566.5L573.2 561.7L573.2 556.9L573.2 552L573.2 547L573.2 541.8L573.1 536.6L573.1 531.4L573.1 526L573.1 520.5L573 514.9L572.9 509.2L572.9 503.3L572.8 497.4L572.7 491.3L572.6 485.1L572.4 478.8L572.3 472.3L572.1 465.7L571.9 458.9L571.7 451.9L571.4 444.8L571.1 437.5L570.8 430L570.4 422.3L569.9 414.4L569.5 406.3L568.9 397.9L568.3 389.3L567.5 380.5L566.7 371.3L565.8 361.8M605.7 709.1L605.8 706.2L606 703.2L606.1 700.3L606.2 697.3L606.3 694.3L606.5 691.2L606.6 688.1L606.7 685L606.9 681.9L607 678.7L607.2 675.5L607.3 672.2L607.5 668.9L607.6 665.6L607.8 662.2L608 658.8L608.1 655.3L608.3 651.8L608.5 648.3L608.7 644.7L608.9 641.1L609.1 637.4L609.2 633.7L609.4 629.9L609.6 626.1L609.8 622.2L610.1 618.3L610.3 614.3L610.5 610.3L610.7 606.2L610.9 602.1L611.2 597.8L611.4 593.6L611.6 589.2L611.9 584.8L612.1 580.4L612.4 575.8L612.7 571.2L612.9 566.5L613.2 561.7L613.5 556.9L613.8 552L614 547L614.3 541.8L614.6 536.6L614.9 531.4L615.3 526L615.6 520.5L615.9 514.9L616.2 509.2L616.5 503.3L616.9 497.4L617.2 491.3L617.6 485.1L617.9 478.8L618.3 472.3L618.6 465.7L619 458.9L619.3 451.9L619.7 444.8L620.1 437.5L620.4 430L620.8 422.3L621.1 414.4L621.5 406.3L621.9 397.9L622.2 389.3L622.5 380.5L622.8 371.3L623.1 361.8M639.5 709.1L639.6 706.2L639.8 703.2L640 700.3L640.2 697.3L640.4 694.3L640.7 691.2L640.9 688.1L641.1 685L641.3 681.9L641.5 678.7L641.8 675.5L642 672.2L642.3 668.9L642.5 665.6L642.8 662.2L643 658.8L643.3 655.3L643.6 651.8L643.9 648.3L644.1 644.7L644.4 641.1L644.7 637.4L645 633.7L645.3 629.9L645.7 626.1L646 622.2L646.3 618.3L646.7 614.3L647 610.3L647.4 606.2L647.7 602.1L648.1 597.8L648.5 593.6L648.9 589.2L649.3 584.8L649.7 580.4L650.1 575.8L650.6 571.2L651 566.5L651.5 561.7L651.9 556.9L652.4 552L652.9 547L653.4 541.8L653.9 536.6L654.4 531.4L655 526L655.5 520.5L656.1 514.9L656.7 509.2L657.3 503.3L657.9 497.4L658.5 491.3L659.2 485.1L659.9 478.8L660.5 472.3L661.2 465.7L662 458.9L662.7 451.9L663.5 444.8L664.3 437.5L665.1 430L665.9 422.3L666.8 414.4L667.7 406.3L668.6 397.9L669.6 389.3L670.5 380.5L671.6 371.3L672.6 361.8" stroke="#006e00" stroke-width="1.2"/>
<path d="M341.7 444.8L311.5 509.2L287.1 561.7L266.7 606.2L249.2 644.7L233.8 678.7L220.2 709.1L213.9 723.1M394.2 444.8L365.2 509.2L341.9 561.7L322.4 606.2L305.7 644.7L291 678.7L278.1 709.1L272.1 723.1M426.7 444.8L398.6 509.2L375.9 561.7L356.9 606.2L340.7 644.7L326.5 678.7L314 709.1L308.2 723.1M450.7 444.8L423.1 509.2L400.9 561.7L382.4 606.2L366.5 644.7L352.7 678.7L340.5 709.1L334.8 723.1M485.7 444.8L459 509.2L437.5 561.7L419.7 606.2L404.4 644.7L391.1 678.7L379.3 709.1L373.9 723.1M511.6 444.8L485.5 509.2L464.6 561.7L447.2 606.2L432.3 644.7L419.4 678.7L408 709.1L402.7 723.1M532.2 444.8L506.6 509.2L486.2 561.7L469.2 606.2L454.6 644.7L442 678.7L430.9 709.1L425.8 723.1M571 444.8L546.5 509.2L526.9 561.7L510.6 606.2L496.8 644.7L484.7 678.7L474.1 709.1L469.3 723.1M599.7 444.8L575.9 509.2L557 561.7L541.3 606.2L527.9 644.7L516.3 678.7L506.2 709.1L501.5 723.1M622.6 444.8L599.5 509.2L581 561.7L565.8 606.2L552.9 644.7L541.7 678.7L531.8 709.1L527.3 723.1M641.8 444.8L619.2 509.2L601.2 561.7L586.3 606.2L573.7 644.7L562.9 678.7L553.3 709.1L548.9 723.1M658.3 444.8L636.2 509.2L618.6 561.7L604.1 606.2L591.8 644.7L581.2 678.7L571.9 709.1L567.6 723.1M672.9 444.8L651.2 509.2L633.9 561.7L619.7 606.2L607.7 644.7L597.3 678.7L588.3 709.1L584.1 723.1" stroke="#a426e4" stroke-width="1.2" stroke-dasharray="4.3 2.4"/>
<path d="M325.6 723L817.5 45" stroke="#1830ff" stroke-width="2.5"/>
</g>
<g clip-path="url(#pc)" fill="none" stroke-linejoin="round" stroke-linecap="round">
<polyline points="412.8,44 399.7,75 388,105.5 367.7,134.5 316.3,189.7 319.3,216.4 233.4,269.4 226,296 234.8,323.8 260.3,361.9 289.8,402.5 313.3,444 341,480.4 348.1,493.3 352.8,501.5 356.3,509.7 357.6,521 359.5,538.2 362.3,561.3 372.4,582.2 377.8,605.6 377.1,627.9 385.3,640.8 395.4,655.6 400.6,668.1 394.4,677.5 374.1,686.9 401.7,708.8 405.8,711.4" stroke="#ff3535" stroke-width="4.6"/>
<polyline points="165.8,242.1 150.1,269.7 170.5,296.4 176.9,323.8 201.1,350.5 232.9,377.8 246.6,403.4 266.4,428.6 274.3,451.6 255.3,473.3 164,493.7 223,512.4 304.7,547.8 330.2,562.3 332.6,578.7 312.7,592.7 316.2,605.6 264.6,617.3 259.2,627.9 269.3,645.5 276.3,668.9 284.5,680.6 311.5,688.8 308.7,708.7 315,711.1" stroke="#00e000" stroke-width="4.6"/>
<path d="M375.5 688L401 708.2" stroke="#fff" stroke-width="0.6" stroke-opacity="0.7"/>
</g>
<path d="M60 45L605 45M60 245L605 245M60 361.8L605 361.8M60 444.9L605 444.9M60 509L605 509M60 561.3L605 561.3M60 605.8L605 605.8M60 644.3L605 644.3M60 678.2L605 678.2M60 709L605 709" stroke="#000" stroke-width="1.8" fill="none"/>
<rect x="65" y="45" width="540" height="678" fill="none" stroke="#000" stroke-width="2"/>
<path d="M411.6 43.6L413.4 43.6" stroke="#ff3535" stroke-width="1.2" stroke-linecap="round"/>
<text id="pl100" x="28.2" y="51" font-size="16" fill="#000" textLength="28.8" lengthAdjust="spacingAndGlyphs" style="font-family:'DejaVu Sans',sans-serif;font-weight:200" stroke="#000" stroke-width="0.5">100</text>
<text id="pl200" x="28.7" y="251" font-size="16" fill="#000" textLength="28" lengthAdjust="spacingAndGlyphs" style="font-family:'DejaVu Sans',sans-serif;font-weight:200" stroke="#000" stroke-width="0.5">200</text>
<text id="pl300" x="29" y="367.8" font-size="16" fill="#000" textLength="27.6" lengthAdjust="spacingAndGlyphs" style="font-family:'DejaVu Sans',sans-serif;font-weight:200" stroke="#000" stroke-width="0.5">300</text>
<text id="pl400" x="28.8" y="450.9" font-size="16" fill="#000" textLength="27.4" lengthAdjust="spacingAndGlyphs" style="font-family:'DejaVu Sans',sans-serif;font-weight:200" stroke="#000" stroke-width="0.5">400</text>
<text id="pl500" x="28.2" y="515" font-size="16" fill="#000" textLength="28.7" lengthAdjust="spacingAndGlyphs" style="font-family:'DejaVu Sans',sans-serif;font-weight:200" stroke="#000" stroke-width="0.5">500</text>
<text id="pl600" x="28.1" y="567.3" font-size="16" fill="#000" textLength="28.7" lengthAdjust="spacingAndGlyphs" style="font-family:'DejaVu Sans',sans-serif;font-weight:200" stroke="#000" stroke-width="0.5">600</text>
<text id="pl700" x="28.6" y="611.8" font-size="16" fill="#000" textLength="27.9" lengthAdjust="spacingAndGlyphs" style="font-family:'DejaVu Sans',sans-serif;font-weight:200" stroke="#000" stroke-width="0.5">700</text>
<text id="pl800" x="28.7" y="650.3" font-size="16" fill="#000" textLength="27.9" lengthAdjust="spacingAndGlyphs" style="font-family:'DejaVu Sans',sans-serif;font-weight:200" stroke="#000" stroke-width="0.5">800</text>
<text id="pl900" x="28.7" y="684.2" font-size="16" fill="#000" textLength="28.5" lengthAdjust="spacingAndGlyphs" style="font-family:'DejaVu Sans',sans-serif;font-weight:200" stroke="#000" stroke-width="0.5">900</text>
<text id="pl1000" x="18.8" y="715" font-size="16" fill="#000" textLength="38.2" lengthAdjust="spacingAndGlyphs" style="font-family:'DejaVu Sans',sans-serif;font-weight:200" stroke="#000" stroke-width="0.5">1000</text>
<text id="tl70" x="94.8" y="743.2" font-size="16.8" fill="#3a5aff" textLength="46.7" lengthAdjust="spacingAndGlyphs" style="font-family:'DejaVu Sans',sans-serif;font-weight:200" stroke="#3a5aff" stroke-width="0.5">−30</text>
<text id="tl80" x="162.6" y="743.2" font-size="16.8" fill="#3a5aff" textLength="45.8" lengthAdjust="spacingAndGlyphs" style="font-family:'DejaVu Sans',sans-serif;font-weight:200" stroke="#3a5aff" stroke-width="0.5">−20</text>
<text id="tl90" x="230.3" y="743.2" font-size="16.8" fill="#3a5aff" textLength="45.1" lengthAdjust="spacingAndGlyphs" style="font-family:'DejaVu Sans',sans-serif;font-weight:200" stroke="#3a5aff" stroke-width="0.5">−10</text>
<text id="tl100" x="313.1" y="743.2" font-size="16.8" fill="#3a5aff" textLength="14.6" lengthAdjust="spacingAndGlyphs" style="font-family:'DejaVu Sans',sans-serif;font-weight:200" stroke="#3a5aff" stroke-width="0.5">0</text>
<text id="tl110" x="373.8" y="743.2" font-size="16.8" fill="#3a5aff" textLength="27.4" lengthAdjust="spacingAndGlyphs" style="font-family:'DejaVu Sans',sans-serif;font-weight:200" stroke="#3a5aff" stroke-width="0.5">10</text>
<text id="tl120" x="442" y="743.2" font-size="16.8" fill="#3a5aff" textLength="26.9" lengthAdjust="spacingAndGlyphs" style="font-family:'DejaVu Sans',sans-serif;font-weight:200" stroke="#3a5aff" stroke-width="0.5">20</text>
<text id="tl130" x="508.8" y="743.2" font-size="16.8" fill="#3a5aff" textLength="27.7" lengthAdjust="spacingAndGlyphs" style="font-family:'DejaVu Sans',sans-serif;font-weight:200" stroke="#3a5aff" stroke-width="0.5">30</text>
<text id="tl140" x="576.8" y="743.2" font-size="16.8" fill="#3a5aff" textLength="27.2" lengthAdjust="spacingAndGlyphs" style="font-family:'DejaVu Sans',sans-serif;font-weight:200" stroke="#3a5aff" stroke-width="0.5">40</text>
<text id="t1w0" x="127.7" y="16.3" font-size="19" fill="#000" textLength="139.9" lengthAdjust="spacingAndGlyphs" style="font-family:'DejaVu Sans',sans-serif;font-weight:200" stroke="#000" stroke-width="0.6">2026011318</text>
<text id="t1w1" x="278.3" y="16.3" font-size="19" fill="#000" textLength="47" lengthAdjust="spacingAndGlyphs" style="font-family:'DejaVu Sans',sans-serif;font-weight:200" stroke="#000" stroke-width="0.6">NAM</text>
<text id="t1w2" x="335.4" y="16.3" font-size="19" fill="#000" textLength="57.6" lengthAdjust="spacingAndGlyphs" style="font-family:'DejaVu Sans',sans-serif;font-weight:200" stroke="#000" stroke-width="0.6">BUFR</text>
<text id="t1w3" x="405.6" y="16.3" font-size="19" fill="#000" textLength="100.5" lengthAdjust="spacingAndGlyphs" style="font-family:'DejaVu Sans',sans-serif;font-weight:200" stroke="#000" stroke-width="0.6">Sounding</text>
<text id="t1w4" x="519.3" y="16.3" font-size="19" fill="#000" textLength="28.2" lengthAdjust="spacingAndGlyphs" style="font-family:'DejaVu Sans',sans-serif;font-weight:200" stroke="#000" stroke-width="0.6">for</text>
<text id="t1w5" x="558.8" y="16.3" font-size="19" fill="#000" textLength="58.1" lengthAdjust="spacingAndGlyphs" style="font-family:'DejaVu Sans',sans-serif;font-weight:200" stroke="#000" stroke-width="0.6">KDCA</text>
<text id="t2w0" x="166.8" y="38.9" font-size="19" fill="#000" textLength="28.8" lengthAdjust="spacingAndGlyphs" style="font-family:'DejaVu Sans',sans-serif;font-weight:200" stroke="#000" stroke-width="0.6">1h</text>
<text id="t2w1" x="206" y="38.9" font-size="19" fill="#000" textLength="89.9" lengthAdjust="spacingAndGlyphs" style="font-family:'DejaVu Sans',sans-serif;font-weight:200" stroke="#000" stroke-width="0.6">forecast</text>
<text id="t2w2" x="308.5" y="38.9" font-size="19" fill="#000" textLength="49.2" lengthAdjust="spacingAndGlyphs" style="font-family:'DejaVu Sans',sans-serif;font-weight:200" stroke="#000" stroke-width="0.6">valid</text>
<text id="t2w3" x="369.8" y="38.9" font-size="19" fill="#000" textLength="138.3" lengthAdjust="spacingAndGlyphs" style="font-family:'DejaVu Sans',sans-serif;font-weight:200" stroke="#000" stroke-width="0.6">2026011319</text>
<text id="t2w4" x="521.2" y="38.9" font-size="19" fill="#000" textLength="58.2" lengthAdjust="spacingAndGlyphs" style="font-family:'DejaVu Sans',sans-serif;font-weight:200" stroke="#000" stroke-width="0.6">(Tue)</text>
<text id="ttw0" x="246.4" y="760.7" font-size="15.4" fill="#2040ff" textLength="112.1" lengthAdjust="spacingAndGlyphs" style="font-family:'DejaVu Sans',sans-serif;font-weight:200" stroke="#2040ff" stroke-width="1.1">Temperature</text>
<text id="ttw1" x="369.3" y="760.7" font-size="15.4" fill="#2040ff" textLength="36.7" lengthAdjust="spacingAndGlyphs" style="font-family:'DejaVu Sans',sans-serif;font-weight:200" stroke="#2040ff" stroke-width="1.1">(°C)</text>
<text id="cool" x="556.3" y="760" font-size="13.3" fill="#f04848" textLength="189.3" lengthAdjust="spacingAndGlyphs" style="font-family:'DejaVu Sans',sans-serif;font-weight:200" stroke="#f04848" stroke-width="0.4">coolwx.com/modelts</text>
<text transform="translate(19.8 449.1) rotate(-90)" x="0" y="0" font-size="15" fill="#000" textLength="78" lengthAdjust="spacingAndGlyphs" style="font-family:'DejaVu Sans',sans-serif;font-weight:200" stroke="#000" stroke-width="0.85">Pressure</text>
<text transform="translate(19.8 361.2) rotate(-90)" x="0" y="0" font-size="15" fill="#000" textLength="42.8" lengthAdjust="spacingAndGlyphs" style="font-family:'DejaVu Sans',sans-serif;font-weight:200" stroke="#000" stroke-width="0.85">(mb)</text>
<text transform="translate(649.1 585.9) rotate(-90)" x="0" y="0" font-size="16.6" fill="#a000d0" textLength="53.3" lengthAdjust="spacingAndGlyphs" style="font-family:'DejaVu Sans',sans-serif;font-weight:200" stroke="#a000d0" stroke-width="0.85">Mixing</text>
<text transform="translate(649.1 522.6) rotate(-90)" x="0" y="0" font-size="16.6" fill="#a000d0" textLength="48.6" lengthAdjust="spacingAndGlyphs" style="font-family:'DejaVu Sans',sans-serif;font-weight:200" stroke="#a000d0" stroke-width="0.85">Ratio</text>
<text transform="translate(649.1 459.3) rotate(-90)" x="0" y="0" font-size="16.6" fill="#a000d0" textLength="51.7" lengthAdjust="spacingAndGlyphs" style="font-family:'DejaVu Sans',sans-serif;font-weight:200" stroke="#a000d0" stroke-width="0.85">(g/kg)</text>
<text id="mr1" x="341.2" y="439.8" font-size="10.5" fill="#a000d0" textLength="5.5" lengthAdjust="spacingAndGlyphs" style="font-family:'DejaVu Sans',sans-serif;font-weight:200" stroke="#a000d0" stroke-width="0.3">1</text>
<text id="mr2" x="393.2" y="439.8" font-size="10.5" fill="#a000d0" textLength="8.4" lengthAdjust="spacingAndGlyphs" style="font-family:'DejaVu Sans',sans-serif;font-weight:200" stroke="#a000d0" stroke-width="0.3">2</text>
<text id="mr3" x="426" y="439.8" font-size="10.5" fill="#a000d0" textLength="8.2" lengthAdjust="spacingAndGlyphs" style="font-family:'DejaVu Sans',sans-serif;font-weight:200" stroke="#a000d0" stroke-width="0.3">3</text>
<text id="mr4" x="450.8" y="439.8" font-size="10.5" fill="#a000d0" textLength="7.2" lengthAdjust="spacingAndGlyphs" style="font-family:'DejaVu Sans',sans-serif;font-weight:200" stroke="#a000d0" stroke-width="0.3">4</text>
<text id="mr6" x="485.3" y="439.8" font-size="10.5" fill="#a000d0" textLength="8.2" lengthAdjust="spacingAndGlyphs" style="font-family:'DejaVu Sans',sans-serif;font-weight:200" stroke="#a000d0" stroke-width="0.3">6</text>
<text id="mr8" x="510.7" y="439.8" font-size="10.5" fill="#a000d0" textLength="9" lengthAdjust="spacingAndGlyphs" style="font-family:'DejaVu Sans',sans-serif;font-weight:200" stroke="#a000d0" stroke-width="0.3">8</text>
<text id="mr10" x="533.9" y="439.8" font-size="10.5" fill="#a000d0" textLength="14.9" lengthAdjust="spacingAndGlyphs" style="font-family:'DejaVu Sans',sans-serif;font-weight:200" stroke="#a000d0" stroke-width="0.3">10</text>
<text id="mr15" x="572.1" y="439.8" font-size="10.5" fill="#a000d0" textLength="16.1" lengthAdjust="spacingAndGlyphs" style="font-family:'DejaVu Sans',sans-serif;font-weight:200" stroke="#a000d0" stroke-width="0.3">15</text>
<text id="mr20" x="600.5" y="439.8" font-size="10.5" fill="#a000d0" textLength="16.7" lengthAdjust="spacingAndGlyphs" style="font-family:'DejaVu Sans',sans-serif;font-weight:200" stroke="#a000d0" stroke-width="0.3">20</text>
<text id="mr25" x="612.3" y="501.7" font-size="10.5" fill="#a000d0" textLength="16.9" lengthAdjust="spacingAndGlyphs" style="font-family:'DejaVu Sans',sans-serif;font-weight:200" stroke="#a000d0" stroke-width="0.3">25</text>
<text id="mr30" x="612.2" y="561.6" font-size="10.5" fill="#a000d0" textLength="16.9" lengthAdjust="spacingAndGlyphs" style="font-family:'DejaVu Sans',sans-serif;font-weight:200" stroke="#a000d0" stroke-width="0.3">30</text>
<text id="mr35" x="612.2" y="615.5" font-size="10.5" fill="#a000d0" textLength="17" lengthAdjust="spacingAndGlyphs" style="font-family:'DejaVu Sans',sans-serif;font-weight:200" stroke="#a000d0" stroke-width="0.3">35</text>
<text id="mr40" x="612.6" y="665" font-size="10.5" fill="#a000d0" textLength="16.5" lengthAdjust="spacingAndGlyphs" style="font-family:'DejaVu Sans',sans-serif;font-weight:200" stroke="#a000d0" stroke-width="0.3">40</text>
<g fill="none" stroke="#000">
<rect x="744.5" y="45" width="186.9" height="180.7" stroke-width="2"/>
<ellipse cx="838" cy="135.3" rx="31.1" ry="29.9" stroke-width="1.15"/>
<ellipse cx="838" cy="135.3" rx="62.2" ry="59.7" stroke-width="1.15"/>
<ellipse cx="838" cy="135.3" rx="93.3" ry="89.5" stroke-width="1.15"/>
<path d="M744.5 135.3H931.4M838 45V225.7" stroke-width="1.3"/>
<path d="M744.6 132.8v5M835.5 45.8h5M755 132.8v5M835.5 55.8h5M765.4 132.8v5M835.5 65.7h5M775.7 132.8v5M835.5 75.6h5M786.1 132.8v5M835.5 85.6h5M796.5 132.8v5M835.5 95.5h5M806.8 132.8v5M835.5 105.5h5M817.2 132.8v5M835.5 115.4h5M827.6 132.8v5M835.5 125.4h5M848.3 132.8v5M835.5 145.3h5M858.7 132.8v5M835.5 155.2h5M869.1 132.8v5M835.5 165.2h5M879.4 132.8v5M835.5 175.1h5M889.8 132.8v5M835.5 185.1h5M900.2 132.8v5M835.5 195.1h5M910.5 132.8v5M835.5 205h5M920.9 132.8v5M835.5 214.9h5M931.3 132.8v5M835.5 224.9h5" stroke-width="1.15"/>
</g>
<text id="knots" x="747.9" y="58.9" font-size="10.9" fill="#000" textLength="41.9" lengthAdjust="spacingAndGlyphs" style="font-family:'DejaVu Sans',sans-serif;font-weight:200" stroke="#000" stroke-width="0.3">knots</text>
<text x="0" y="0" font-size="14.2" fill="#000" stroke="#000" stroke-width="0.45" style="font-family:'DejaVu Sans',sans-serif;font-weight:200" text-anchor="middle" textLength="14.6" lengthAdjust="spacingAndGlyphs" transform="translate(816.6 155.6) rotate(-44) translate(0 5.2)">15</text>
<text x="0" y="0" font-size="14.2" fill="#000" stroke="#000" stroke-width="0.45" style="font-family:'DejaVu Sans',sans-serif;font-weight:200" text-anchor="middle" textLength="14.6" lengthAdjust="spacingAndGlyphs" transform="translate(794.2 178.1) rotate(-44) translate(0 5.2)">30</text>
<text x="0" y="0" font-size="14.2" fill="#000" stroke="#000" stroke-width="0.45" style="font-family:'DejaVu Sans',sans-serif;font-weight:200" text-anchor="middle" textLength="14.6" lengthAdjust="spacingAndGlyphs" transform="translate(773.2 198.6) rotate(-44) translate(0 5.2)">45</text>
<polyline points="837.6,121.4 838.8,116.5 840.3,112.1 843.7,109.6 849.5,107.7 858.3,106.5 871,107.2 883.7,109.8 894,106.2 895.4,107.7 897.4,111.6 902.3,114.5 910.1,116.7 917.9,115.5" fill="none" stroke="#00dd00" stroke-width="2.3" stroke-linejoin="round"/>
<rect x="835.6" y="119" width="4" height="5" fill="#00dd00"/>
<path d="M917.9 111.5L919.6 115.5L917.9 119.2L916.2 115.5Z" fill="#00dd00"/>
<path d="M837.8 135.3L903 146.8" stroke="#ff4040" stroke-width="1.4"/>
<path d="M908.6 147.7L901 142.2L900.6 151Z" fill="#ff4040"/>
<g fill="none" stroke="#222" stroke-width="1.2">
<rect x="768.2" y="270.9" width="158.3" height="401.3"/>
<path d="M768.2 329.5H926.5M768.2 456H926.5M768.2 583.5H926.5"/>
</g>
<text id="rl0" x="770.8" y="289.1" font-size="12" fill="#000" textLength="10.5" lengthAdjust="spacingAndGlyphs" style="font-family:'DejaVu Sans',sans-serif;font-weight:200" stroke="#000" stroke-width="0.4">K</text>
<text id="rv0" x="869.9" y="289.1" font-size="12" fill="#000" textLength="21.2" lengthAdjust="spacingAndGlyphs" style="font-family:'DejaVu Sans',sans-serif;font-weight:200" stroke="#000" stroke-width="0.4">−1</text>
<text id="rl1" x="773.2" y="306.9" font-size="12" fill="#000" textLength="13.6" lengthAdjust="spacingAndGlyphs" style="font-family:'DejaVu Sans',sans-serif;font-weight:200" stroke="#000" stroke-width="0.4">TT</text>
<text id="rv1" x="871.2" y="306.9" font-size="12" fill="#000" textLength="17.1" lengthAdjust="spacingAndGlyphs" style="font-family:'DejaVu Sans',sans-serif;font-weight:200" stroke="#000" stroke-width="0.4">27</text>
<text id="rl2" x="771.4" y="320.8" font-size="12" fill="#000" textLength="66" lengthAdjust="spacingAndGlyphs" style="font-family:'DejaVu Sans',sans-serif;font-weight:200" stroke="#000" stroke-width="0.4">PW (cm)</text>
<text id="rv2" x="870.6" y="320.8" font-size="12" fill="#000" textLength="33" lengthAdjust="spacingAndGlyphs" style="font-family:'DejaVu Sans',sans-serif;font-weight:200" stroke="#000" stroke-width="0.4">0.85</text>
<text id="rl3" x="771.6" y="370.3" font-size="12" fill="#000" textLength="86.5" lengthAdjust="spacingAndGlyphs" style="font-family:'DejaVu Sans',sans-serif;font-weight:200" stroke="#000" stroke-width="0.4">Press (mb)</text>
<text id="rv3" x="870.3" y="370.3" font-size="12" fill="#000" textLength="52.8" lengthAdjust="spacingAndGlyphs" style="font-family:'DejaVu Sans',sans-serif;font-weight:200" stroke="#000" stroke-width="0.4">1008.3</text>
<text id="rl4" x="773.1" y="384.3" font-size="12" fill="#000" textLength="75.9" lengthAdjust="spacingAndGlyphs" style="font-family:'DejaVu Sans',sans-serif;font-weight:200" stroke="#000" stroke-width="0.4">Temp (°C)</text>
<text id="rv4" x="870.4" y="384.3" font-size="12" fill="#000" textLength="33.2" lengthAdjust="spacingAndGlyphs" style="font-family:'DejaVu Sans',sans-serif;font-weight:200" stroke="#000" stroke-width="0.4">10.7</text>
<text id="rl5" x="771.4" y="397.7" font-size="12" fill="#000" textLength="76.3" lengthAdjust="spacingAndGlyphs" style="font-family:'DejaVu Sans',sans-serif;font-weight:200" stroke="#000" stroke-width="0.4">Dewp (°C)</text>
<text id="rv5" x="870.3" y="397.7" font-size="12" fill="#000" textLength="36.5" lengthAdjust="spacingAndGlyphs" style="font-family:'DejaVu Sans',sans-serif;font-weight:200" stroke="#000" stroke-width="0.4">−2.8</text>
<text id="rl6" x="773.1" y="411" font-size="12" fill="#000" textLength="44.2" lengthAdjust="spacingAndGlyphs" style="font-family:'DejaVu Sans',sans-serif;font-weight:200" stroke="#000" stroke-width="0.4"><tspan font-weight="bold" font-style="italic">θ</tspan><tspan font-size="7" font-weight="bold" dy="2">E</tspan><tspan dy="-2"> (K)</tspan></text>
<text id="rv6" x="870.6" y="411" font-size="12" fill="#000" textLength="42.6" lengthAdjust="spacingAndGlyphs" style="font-family:'DejaVu Sans',sans-serif;font-weight:200" stroke="#000" stroke-width="0.4">292.0</text>
<text id="rl7" x="771.4" y="424.4" font-size="12" fill="#000" textLength="50.6" lengthAdjust="spacingAndGlyphs" style="font-family:'DejaVu Sans',sans-serif;font-weight:200" stroke="#000" stroke-width="0.4">LI (°C)</text>
<text id="rv7" x="869.8" y="424.4" font-size="12" fill="#000" textLength="34" lengthAdjust="spacingAndGlyphs" style="font-family:'DejaVu Sans',sans-serif;font-weight:200" stroke="#000" stroke-width="0.4">16.5</text>
<text id="rl8" x="771.6" y="438.4" font-size="12" fill="#000" textLength="93.5" lengthAdjust="spacingAndGlyphs" style="font-family:'DejaVu Sans',sans-serif;font-weight:200" stroke="#000" stroke-width="0.4">CAPE (Jkg<tspan font-size="8" dy="-4">−1</tspan><tspan dy="4">)</tspan></text>
<text id="rv8" x="869.9" y="438.4" font-size="12" fill="#000" textLength="20.2" lengthAdjust="spacingAndGlyphs" style="font-family:'DejaVu Sans',sans-serif;font-weight:200" stroke="#000" stroke-width="0.4">17</text>
<text id="rl9" x="771.7" y="452" font-size="12" fill="#000" textLength="80.2" lengthAdjust="spacingAndGlyphs" style="font-family:'DejaVu Sans',sans-serif;font-weight:200" stroke="#000" stroke-width="0.4">CIN (Jkg<tspan font-size="8" dy="-4">−1</tspan><tspan dy="4">)</tspan></text>
<text id="rv9" x="869.8" y="452" font-size="12" fill="#000" textLength="11" lengthAdjust="spacingAndGlyphs" style="font-family:'DejaVu Sans',sans-serif;font-weight:200" stroke="#000" stroke-width="0.4">0</text>
<text id="rl10" x="771.6" y="497.5" font-size="12" fill="#000" textLength="86.5" lengthAdjust="spacingAndGlyphs" style="font-family:'DejaVu Sans',sans-serif;font-weight:200" stroke="#000" stroke-width="0.4">Press (mb)</text>
<text id="rv10" x="870" y="497.5" font-size="12" fill="#000" textLength="43.1" lengthAdjust="spacingAndGlyphs" style="font-family:'DejaVu Sans',sans-serif;font-weight:200" stroke="#000" stroke-width="0.4">805.5</text>
<text id="rl11" x="772.9" y="510.7" font-size="12" fill="#000" textLength="76.2" lengthAdjust="spacingAndGlyphs" style="font-family:'DejaVu Sans',sans-serif;font-weight:200" stroke="#000" stroke-width="0.4">Temp (°C)</text>
<text id="rv11" x="870.3" y="510.7" font-size="12" fill="#000" textLength="34.3" lengthAdjust="spacingAndGlyphs" style="font-family:'DejaVu Sans',sans-serif;font-weight:200" stroke="#000" stroke-width="0.4">10.7</text>
<text id="rl12" x="771.4" y="524.2" font-size="12" fill="#000" textLength="76.3" lengthAdjust="spacingAndGlyphs" style="font-family:'DejaVu Sans',sans-serif;font-weight:200" stroke="#000" stroke-width="0.4">Dewp (°C)</text>
<text id="rv12" x="870" y="524.2" font-size="12" fill="#000" textLength="37.4" lengthAdjust="spacingAndGlyphs" style="font-family:'DejaVu Sans',sans-serif;font-weight:200" stroke="#000" stroke-width="0.4">−2.8</text>
<text id="rl13" x="773.1" y="538" font-size="12" fill="#000" textLength="44.2" lengthAdjust="spacingAndGlyphs" style="font-family:'DejaVu Sans',sans-serif;font-weight:200" stroke="#000" stroke-width="0.4"><tspan font-weight="bold" font-style="italic">θ</tspan><tspan font-size="7" font-weight="bold" dy="2">E</tspan><tspan dy="-2"> (K)</tspan></text>
<text id="rv13" x="870.7" y="538" font-size="12" fill="#000" textLength="41.2" lengthAdjust="spacingAndGlyphs" style="font-family:'DejaVu Sans',sans-serif;font-weight:200" stroke="#000" stroke-width="0.4">296.1</text>
<text id="rl14" x="771.4" y="551.2" font-size="12" fill="#000" textLength="50.6" lengthAdjust="spacingAndGlyphs" style="font-family:'DejaVu Sans',sans-serif;font-weight:200" stroke="#000" stroke-width="0.4">LI (°C)</text>
<text id="rv14" x="869.8" y="551.2" font-size="12" fill="#000" textLength="33.9" lengthAdjust="spacingAndGlyphs" style="font-family:'DejaVu Sans',sans-serif;font-weight:200" stroke="#000" stroke-width="0.4">13.4</text>
<text id="rl15" x="771.6" y="565" font-size="12" fill="#000" textLength="93.5" lengthAdjust="spacingAndGlyphs" style="font-family:'DejaVu Sans',sans-serif;font-weight:200" stroke="#000" stroke-width="0.4">CAPE (Jkg<tspan font-size="8" dy="-4">−1</tspan><tspan dy="4">)</tspan></text>
<text id="rv15" x="870.3" y="565" font-size="12" fill="#000" textLength="10.5" lengthAdjust="spacingAndGlyphs" style="font-family:'DejaVu Sans',sans-serif;font-weight:200" stroke="#000" stroke-width="0.4">0</text>
<text id="rl16" x="771.7" y="579" font-size="12" fill="#000" textLength="80.2" lengthAdjust="spacingAndGlyphs" style="font-family:'DejaVu Sans',sans-serif;font-weight:200" stroke="#000" stroke-width="0.4">CIN (Jkg<tspan font-size="8" dy="-4">−1</tspan><tspan dy="4">)</tspan></text>
<text id="rv16" x="870.3" y="579" font-size="12" fill="#000" textLength="10.5" lengthAdjust="spacingAndGlyphs" style="font-family:'DejaVu Sans',sans-serif;font-weight:200" stroke="#000" stroke-width="0.4">0</text>
<text id="rl17" x="771.4" y="614.8" font-size="12" fill="#000" textLength="76.8" lengthAdjust="spacingAndGlyphs" style="font-family:'DejaVu Sans',sans-serif;font-weight:200" stroke="#000" stroke-width="0.4">EH (Jkg<tspan font-size="8" dy="-4">−1</tspan><tspan dy="4">)</tspan></text>
<text id="rv17" x="869.9" y="614.8" font-size="12" fill="#000" textLength="29" lengthAdjust="spacingAndGlyphs" style="font-family:'DejaVu Sans',sans-serif;font-weight:200" stroke="#000" stroke-width="0.4">150</text>
<text id="rl18" x="772.2" y="628.3" font-size="12" fill="#000" textLength="93" lengthAdjust="spacingAndGlyphs" style="font-family:'DejaVu Sans',sans-serif;font-weight:200" stroke="#000" stroke-width="0.4">SREH (Jkg<tspan font-size="8" dy="-4">−1</tspan><tspan dy="4">)</tspan></text>
<text id="rv18" x="870.9" y="628.3" font-size="12" fill="#000" textLength="27.6" lengthAdjust="spacingAndGlyphs" style="font-family:'DejaVu Sans',sans-serif;font-weight:200" stroke="#000" stroke-width="0.4">215</text>
<text id="rl19" x="772.1" y="650.9" font-size="12" fill="#000" textLength="77.1" lengthAdjust="spacingAndGlyphs" style="font-family:'DejaVu Sans',sans-serif;font-weight:200" stroke="#000" stroke-width="0.4">StmDir (°)</text>
<text id="rv19" x="870.4" y="650.9" font-size="12" fill="#000" textLength="28.7" lengthAdjust="spacingAndGlyphs" style="font-family:'DejaVu Sans',sans-serif;font-weight:200" stroke="#000" stroke-width="0.4">280</text>
<text id="rl20" x="772.3" y="664" font-size="12" fill="#000" textLength="91.7" lengthAdjust="spacingAndGlyphs" style="font-family:'DejaVu Sans',sans-serif;font-weight:200" stroke="#000" stroke-width="0.4">StmSpd (kt)</text>
<text id="rv20" x="870.6" y="664" font-size="12" fill="#000" textLength="18.8" lengthAdjust="spacingAndGlyphs" style="font-family:'DejaVu Sans',sans-serif;font-weight:200" stroke="#000" stroke-width="0.4">34</text>
<text id="h1" x="793.5" y="348.2" font-size="12" fill="#000" textLength="93.2" lengthAdjust="spacingAndGlyphs" style="font-family:'DejaVu Sans',sans-serif;font-weight:200" stroke="#000" stroke-width="0.4">Lowest level</text>
<text id="h2" x="789.8" y="474.9" font-size="12" fill="#000" textLength="105.9" lengthAdjust="spacingAndGlyphs" style="font-family:'DejaVu Sans',sans-serif;font-weight:200" stroke="#000" stroke-width="0.4">Most Unstable</text>
<text id="h3" x="804.3" y="596.6" font-size="12" fill="#000" textLength="79.4" lengthAdjust="spacingAndGlyphs" style="font-family:'DejaVu Sans',sans-serif;font-weight:200" stroke="#000" stroke-width="0.4">Hodograph</text>
<text id="ncw0" x="749.2" y="705.8" font-size="14.8" fill="#000" textLength="48.1" lengthAdjust="spacingAndGlyphs" style="font-family:'DejaVu Sans',sans-serif;font-weight:200" stroke="#000" stroke-width="0.4">NCEP</text>
<text id="ncw1" x="811.1" y="705.8" font-size="14.8" fill="#000" textLength="43.9" lengthAdjust="spacingAndGlyphs" style="font-family:'DejaVu Sans',sans-serif;font-weight:200" stroke="#000" stroke-width="0.4">1−Hr</text>
<text id="ncw2" x="865.5" y="705.8" font-size="14.8" fill="#000" textLength="66.8" lengthAdjust="spacingAndGlyphs" style="font-family:'DejaVu Sans',sans-serif;font-weight:200" stroke="#000" stroke-width="0.4">PType:</text>
<path d="M744 711.6H931.5" stroke="#000" stroke-width="1.6"/>
<text id="none" x="814.2" y="728.3" font-size="14.2" fill="#000" textLength="47.2" lengthAdjust="spacingAndGlyphs" style="font-family:'DejaVu Sans',sans-serif;font-weight:200" stroke="#000" stroke-width="0.4">None</text>
<text id="le" x="804.5" y="750" font-size="12.5" fill="#000" textLength="66.3" lengthAdjust="spacingAndGlyphs" style="font-family:'DejaVu Sans',sans-serif;font-weight:200" stroke="#000" stroke-width="0.4">(0" L.E.)</text>
<path d="M698.3 45V712" stroke="#555" stroke-width="1.3"/>
<path d="M698.4 75.9L664.3 82.2M672.7 80.7l-2.1 -11.3" stroke="#ffff00" stroke-width="1.6" fill="none"/>
<path d="M664.3 82.2L663.8 72.5L668.6 81.4Z" fill="#ffff00" stroke="#ffff00" stroke-width="0.8" stroke-linejoin="round"/>
<rect x="696.6" y="74.1" width="3.6" height="3.6" fill="#ffff00"/>
<path d="M698.4 106.9L663.2 107.3M671.7 107.2l-0.1 -11.5" stroke="#ffff00" stroke-width="1.6" fill="none"/>
<path d="M663.2 107.3L664.4 97.7L667.6 107.3Z" fill="#ffff00" stroke="#ffff00" stroke-width="0.8" stroke-linejoin="round"/>
<rect x="696.6" y="105.1" width="3.6" height="3.6" fill="#ffff00"/>
<path d="M698.4 136.1L663.3 135.4M671.8 135.6l0.2 -11.5M676.4 135.7l0.2 -11.5" stroke="#ffd800" stroke-width="1.6" fill="none"/>
<path d="M663.3 135.4L664.8 125.8L667.7 135.5Z" fill="#ffd800" stroke="#ffd800" stroke-width="0.8" stroke-linejoin="round"/>
<rect x="696.6" y="134.3" width="3.6" height="3.6" fill="#ffd800"/>
<path d="M698.4 163.8L663.3 163.3M671.8 163.4l0.1 -11.5M676.4 163.5l0.1 -11.5" stroke="#ffd800" stroke-width="1.6" fill="none"/>
<path d="M663.3 163.3L664.7 153.7L667.7 163.4Z" fill="#ffd800" stroke="#ffd800" stroke-width="0.8" stroke-linejoin="round"/>
<rect x="696.6" y="161.9" width="3.6" height="3.6" fill="#ffd800"/>
<path d="M698.4 190.3L663.3 190M671.8 190.1l0.1 -11.5" stroke="#ffee00" stroke-width="1.6" fill="none"/>
<path d="M663.3 190L664.7 180.4L667.7 190Z" fill="#ffee00" stroke="#ffee00" stroke-width="0.8" stroke-linejoin="round"/>
<rect x="696.6" y="188.5" width="3.6" height="3.6" fill="#ffee00"/>
<path d="M698.4 216.5L663.9 212.5" stroke="#80ff00" stroke-width="1.6" fill="none"/>
<path d="M663.9 212.5L666.3 203.1L668.3 213Z" fill="#80ff00" stroke="#80ff00" stroke-width="0.8" stroke-linejoin="round"/>
<rect x="696.6" y="214.7" width="3.6" height="3.6" fill="#80ff00"/>
<path d="M698.4 242.7L663.3 242.2M671.8 242.3l0.2 -11.5M676.4 242.4l0.2 -11.5M681.8 242.5l0.1 -5.8" stroke="#ffb000" stroke-width="1.6" fill="none"/>
<path d="M663.3 242.2L664.7 232.6L667.7 242.3Z" fill="#ffb000" stroke="#ffb000" stroke-width="0.8" stroke-linejoin="round"/>
<rect x="696.6" y="240.9" width="3.6" height="3.6" fill="#ffb000"/>
<path d="M698.4 269.8L664.9 262M673.2 263.9l2.6 -11.2M678.4 265.2l1.3 -5.6" stroke="#ffff00" stroke-width="1.6" fill="none"/>
<path d="M664.9 262L668.3 252.9L669.2 263Z" fill="#ffff00" stroke="#ffff00" stroke-width="0.8" stroke-linejoin="round"/>
<rect x="696.6" y="268" width="3.6" height="3.6" fill="#ffff00"/>
<path d="M698.4 296.7L666.5 284.2M674.4 287.3l4.2 -10.7M678.7 289l4.2 -10.7" stroke="#ffb400" stroke-width="1.6" fill="none"/>
<path d="M666.5 284.2L671.2 275.7L670.6 285.8Z" fill="#ffb400" stroke="#ffb400" stroke-width="0.8" stroke-linejoin="round"/>
<rect x="696.6" y="294.9" width="3.6" height="3.6" fill="#ffb400"/>
<path d="M698.4 324L664.9 315.4M673.1 317.5l2.9 -11.1M678.4 318.9l1.4 -5.6" stroke="#ffd000" stroke-width="1.6" fill="none"/>
<path d="M664.9 315.4L668.5 306.4L669.2 316.5Z" fill="#ffd000" stroke="#ffd000" stroke-width="0.8" stroke-linejoin="round"/>
<rect x="696.6" y="322.2" width="3.6" height="3.6" fill="#ffd000"/>
<path d="M698.4 351.4L664.9 344M673.2 345.8l2.5 -11.2" stroke="#ffff00" stroke-width="1.6" fill="none"/>
<path d="M664.9 344L668.2 334.9L669.2 344.9Z" fill="#ffff00" stroke="#ffff00" stroke-width="0.8" stroke-linejoin="round"/>
<rect x="696.6" y="349.6" width="3.6" height="3.6" fill="#ffff00"/>
<path d="M698.4 377.9L663.9 373M673.1 374.3l0.8 -5.7" stroke="#eeff00" stroke-width="1.6" fill="none"/>
<path d="M663.9 373L666.5 363.7L668.3 373.6Z" fill="#eeff00" stroke="#eeff00" stroke-width="0.8" stroke-linejoin="round"/>
<rect x="696.6" y="376.1" width="3.6" height="3.6" fill="#eeff00"/>
<path d="M698.4 403.8L663.9 401.1M673.2 401.8l0.4 -5.8" stroke="#b8ff00" stroke-width="1.6" fill="none"/>
<path d="M663.9 401.1L665.9 391.6L668.3 401.4Z" fill="#b8ff00" stroke="#b8ff00" stroke-width="0.8" stroke-linejoin="round"/>
<rect x="696.6" y="401.9" width="3.6" height="3.6" fill="#b8ff00"/>
<path d="M698.4 428.8L663.9 426.7" stroke="#a8ff00" stroke-width="1.6" fill="none"/>
<path d="M663.9 426.7L665.8 417.2L668.3 427Z" fill="#a8ff00" stroke="#a8ff00" stroke-width="0.8" stroke-linejoin="round"/>
<rect x="696.6" y="426.9" width="3.6" height="3.6" fill="#a8ff00"/>
<path d="M698.4 452L663.9 453.5M673.2 453.1l-0.3 -5.8" stroke="#c8ff00" stroke-width="1.6" fill="none"/>
<path d="M663.9 453.5L664.8 443.9L668.3 453.3Z" fill="#c8ff00" stroke="#c8ff00" stroke-width="0.8" stroke-linejoin="round"/>
<rect x="696.6" y="450.2" width="3.6" height="3.6" fill="#c8ff00"/>
<path d="M698.4 473.3L663.9 474.4" stroke="#c0ff00" stroke-width="1.6" fill="none"/>
<path d="M663.9 474.4L664.9 464.8L668.3 474.3Z" fill="#c0ff00" stroke="#c0ff00" stroke-width="0.8" stroke-linejoin="round"/>
<rect x="696.6" y="471.5" width="3.6" height="3.6" fill="#c0ff00"/>
<path d="M698.4 493.6L665.9 498.9M665.9 498.9l-1.9 -11.4M670.4 498.2l-1.9 -11.4M675 497.4l-1.9 -11.4M679.5 496.7l-1.9 -11.4M684.8 495.8l-0.9 -5.7" stroke="#40ff00" stroke-width="1.6" fill="none"/>
<rect x="696.6" y="491.8" width="3.6" height="3.6" fill="#40ff00"/>
<path d="M698.4 513L665.9 521.4M665.9 521.4l-2.9 -11.1M670.4 520.2l-2.9 -11.1M674.8 519.1l-2.9 -11.1M679.3 517.9l-2.9 -11.1M684.5 516.6l-1.5 -5.6" stroke="#40ff00" stroke-width="1.6" fill="none"/>
<rect x="696.6" y="511.2" width="3.6" height="3.6" fill="#40ff00"/>
<path d="M698.4 530.9L665.9 539.8M665.9 539.8l-3 -11.1M670.3 538.6l-3 -11.1M674.8 537.4l-3 -11.1M679.2 536.2l-3 -11.1M684.4 534.7l-1.5 -5.6" stroke="#50ff00" stroke-width="1.6" fill="none"/>
<rect x="696.6" y="529.1" width="3.6" height="3.6" fill="#50ff00"/>
<path d="M698.4 548.1L665.9 556.2M665.9 556.2l-2.8 -11.2M670.4 555.1l-2.8 -11.2M674.8 554l-2.8 -11.2M679.3 552.9l-2.8 -11.2M684.5 551.6l-1.4 -5.6" stroke="#70ff00" stroke-width="1.6" fill="none"/>
<rect x="696.6" y="546.3" width="3.6" height="3.6" fill="#70ff00"/>
<path d="M698.4 563.8L665.9 571.9M665.9 571.9l-2.8 -11.2M670.4 570.8l-2.8 -11.2M674.8 569.7l-2.8 -11.2M679.3 568.5l-2.8 -11.2M684.5 567.2l-1.4 -5.6" stroke="#80ff00" stroke-width="1.6" fill="none"/>
<rect x="696.6" y="562" width="3.6" height="3.6" fill="#80ff00"/>
<path d="M698.4 578.9L665.9 585.6M665.9 585.6l-2.3 -11.3M670.4 584.7l-2.3 -11.3M674.9 583.7l-2.3 -11.3M679.4 582.8l-2.3 -11.3M684.7 581.7l-1.2 -5.7" stroke="#90ff00" stroke-width="1.6" fill="none"/>
<rect x="696.6" y="577.1" width="3.6" height="3.6" fill="#90ff00"/>
<path d="M698.4 592.4L665.9 599.2M665.9 599.2l-2.4 -11.3M670.4 598.3l-2.4 -11.3M674.9 597.3l-2.4 -11.3M679.4 596.4l-2.4 -11.3M684.7 595.3l-1.2 -5.7" stroke="#80ff00" stroke-width="1.6" fill="none"/>
<rect x="696.6" y="590.6" width="3.6" height="3.6" fill="#80ff00"/>
<path d="M698.4 605.5L666.4 612.7M666.4 612.7l-2.5 -11.2M670.9 611.7l-2.5 -11.2M675.4 610.7l-2.5 -11.2M679.9 609.7l-2.5 -11.2" stroke="#00ff40" stroke-width="1.6" fill="none"/>
<rect x="696.6" y="603.7" width="3.6" height="3.6" fill="#00ff40"/>
<path d="M698.4 617.3L666.4 625.1M666.4 625.1l-2.7 -11.2M670.9 624l-2.7 -11.2M675.3 622.9l-2.7 -11.2M680.6 621.6l-1.4 -5.6" stroke="#00ff50" stroke-width="1.6" fill="none"/>
<rect x="696.6" y="615.5" width="3.6" height="3.6" fill="#00ff50"/>
<path d="M698.4 628L666.7 637.8M666.7 637.8l-3.4 -11M671.1 636.4l-3.4 -11M675.5 635.1l-3.4 -11M680.6 633.5l-1.7 -5.5" stroke="#00ff60" stroke-width="1.6" fill="none"/>
<rect x="696.6" y="626.2" width="3.6" height="3.6" fill="#00ff60"/>
<path d="M698.4 637.8L667 647.5M667 647.5l-3.4 -11M671.4 646.1l-3.4 -11M675.8 644.8l-3.4 -11" stroke="#00ff70" stroke-width="1.6" fill="none"/>
<rect x="696.6" y="636" width="3.6" height="3.6" fill="#00ff70"/>
<path d="M698.4 646.3L667.5 657.5M667.5 657.5l-3.9 -10.8M671.8 655.9l-3.9 -10.8M676.1 654.4l-3.9 -10.8" stroke="#00ff78" stroke-width="1.6" fill="none"/>
<rect x="696.6" y="644.5" width="3.6" height="3.6" fill="#00ff78"/>
<path d="M698.4 654.1L668 666.5M668 666.5l-4.3 -10.6M672.3 664.8l-4.3 -10.6M676.5 663l-4.3 -10.6" stroke="#00ff80" stroke-width="1.6" fill="none"/>
<rect x="696.6" y="652.3" width="3.6" height="3.6" fill="#00ff80"/>
<path d="M698.4 659.9L668.5 673.5M668.5 673.5l-4.8 -10.5M672.7 671.6l-4.8 -10.5M676.9 669.7l-4.8 -10.5" stroke="#00ff88" stroke-width="1.6" fill="none"/>
<rect x="696.6" y="658.1" width="3.6" height="3.6" fill="#00ff88"/>
<path d="M698.4 665.4L669 680M669 680l-5.1 -10.3M673.1 678l-5.1 -10.3M677.2 675.9l-5.1 -10.3" stroke="#00ff90" stroke-width="1.6" fill="none"/>
<rect x="696.6" y="663.6" width="3.6" height="3.6" fill="#00ff90"/>
<path d="M698.4 670.9L669.5 686M669.5 686l-5.3 -10.2M673.6 683.9l-5.3 -10.2M677.7 681.7l-5.3 -10.2" stroke="#00ff98" stroke-width="1.6" fill="none"/>
<rect x="696.6" y="669.1" width="3.6" height="3.6" fill="#00ff98"/>
<path d="M698.4 675.2L670 691M670 691l-5.6 -10M674 688.8l-5.6 -10M678 686.5l-5.6 -10" stroke="#00ffa0" stroke-width="1.6" fill="none"/>
<rect x="696.6" y="673.4" width="3.6" height="3.6" fill="#00ffa0"/>
<path d="M698.4 679.5L671 696.5M671 696.5l-6.1 -9.8M674.9 694.1l-6.1 -9.8M678.8 691.6l-6.1 -9.8" stroke="#00ffb0" stroke-width="1.6" fill="none"/>
<rect x="696.6" y="677.7" width="3.6" height="3.6" fill="#00ffb0"/>
<path d="M698.4 682.6L673.7 701.5M673.7 701.5l-7 -9.1M677.4 698.7l-7 -9.1M681.6 695.4l-3.5 -4.6" stroke="#00f8c8" stroke-width="1.6" fill="none"/>
<rect x="696.6" y="680.8" width="3.6" height="3.6" fill="#00f8c8"/>
<path d="M698.4 685.5L680.5 710.6M680.5 710.6l-9.4 -6.7M683.2 706.9l-9.4 -6.7" stroke="#00e8ff" stroke-width="1.6" fill="none"/>
<rect x="696.6" y="683.7" width="3.6" height="3.6" fill="#00e8ff"/>
<path d="M679.1 717.1L696 716L696 741L698.6 743.1L683 740.6Z" fill="#2cb0ff"/>
<path d="M681 719.3H694M681.2 721.5H694M681.4 723.7H694M681.5 725.9H694M681.7 728.1H694M681.9 730.3H694M682.1 732.5H694M682.3 734.7H694M682.4 736.9H694M682.6 739.1H694" stroke="#6cd0ff" stroke-width="0.7"/>
<path d="M683 740.2H698" stroke="#1a88ff" stroke-width="2.2"/>
<rect x="696" y="686" width="3.6" height="57" fill="#1aa4ff"/>
<rect x="697.6" y="712" width="2" height="31" fill="#1690ff"/>
<path d="M698.4 689L687.3 714.3M687.3 714.3l-10.5 -4.6M689.5 709.4l-5.3 -2.3" stroke="#10c0ff" stroke-width="1.6" fill="none"/>
<rect x="696.6" y="687.2" width="3.6" height="3.6" fill="#10c0ff"/>
<path d="M698.4 693L689.1 717.9M689.1 717.9l-10.8 -4M691 712.8l-5.4 -2" stroke="#18b0ff" stroke-width="1.6" fill="none"/>
<rect x="696.6" y="691.2" width="3.6" height="3.6" fill="#18b0ff"/>
<path d="M698.4 697L690.5 718.5M690.5 718.5l-10.8 -4" stroke="#18a8ff" stroke-width="1.6" fill="none"/>
<rect x="696.6" y="695.2" width="3.6" height="3.6" fill="#18a8ff"/>
<path d="M698.4 701L691.5 719.5M691.5 719.5l-10.8 -4" stroke="#18a8ff" stroke-width="1.6" fill="none"/>
<rect x="696.6" y="699.2" width="3.6" height="3.6" fill="#18a8ff"/>
</svg></body></html>
